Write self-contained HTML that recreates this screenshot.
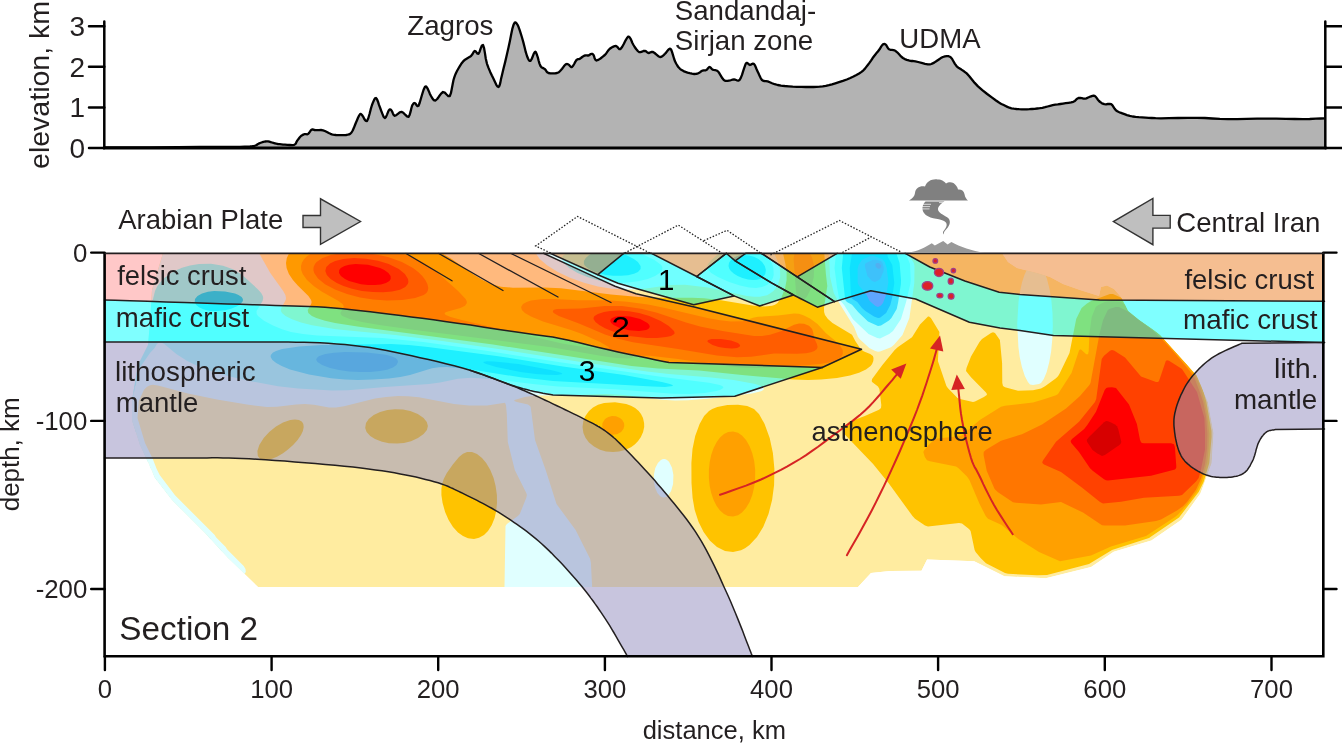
<!DOCTYPE html>
<html><head><meta charset="utf-8"><title>Section 2</title>
<style>html,body{margin:0;padding:0;background:#fff}svg{display:block}</style></head>
<body>
<svg width="1342" height="743" viewBox="0 0 1342 743" style="display:block">
<rect width="1342" height="743" fill="#fff"/>
<path d="M104.5,147.5 L123.0,147.4 L149.8,147.3 L177.8,147.1 L200.0,147.0 L214.6,146.9 L225.3,146.9 L233.4,146.9 L240.0,146.8 L244.7,146.7 L247.2,146.7 L248.5,146.6 L250.0,146.5 L251.7,146.3 L253.0,146.1 L254.2,145.9 L255.4,145.5 L256.6,145.0 L257.6,144.3 L258.7,143.6 L260.0,143.0 L261.5,142.5 L263.3,141.9 L265.0,141.5 L266.6,141.3 L268.0,141.4 L269.3,141.7 L270.6,142.1 L272.0,142.5 L273.4,142.9 L274.9,143.3 L276.4,143.7 L278.0,144.0 L279.6,144.2 L281.3,144.4 L283.1,144.6 L285.0,144.7 L287.3,144.9 L289.9,145.0 L292.3,145.1 L294.2,144.8 L295.3,144.1 L296.0,143.2 L296.4,142.1 L297.0,141.0 L297.8,139.9 L298.7,138.7 L299.6,137.5 L300.5,136.5 L301.4,135.7 L302.3,135.1 L303.3,134.6 L304.2,134.2 L305.1,134.1 L306.1,134.2 L307.1,134.3 L308.0,134.0 L308.9,133.1 L309.8,131.8 L310.8,130.4 L311.7,129.6 L312.6,129.4 L313.4,129.6 L314.3,130.0 L315.5,130.2 L317.1,130.2 L319.0,130.1 L321.0,130.0 L323.0,130.3 L324.9,131.0 L326.9,132.0 L328.8,133.0 L330.5,133.8 L331.9,134.3 L333.1,134.6 L334.4,134.8 L336.0,135.0 L338.3,135.1 L341.0,135.2 L343.7,135.2 L346.0,135.0 L347.7,134.7 L349.1,134.4 L350.3,133.7 L351.5,132.5 L352.7,130.5 L353.9,127.8 L355.0,125.0 L356.0,122.5 L357.0,120.2 L358.0,117.8 L358.9,115.9 L359.8,114.5 L360.4,113.9 L360.8,113.9 L361.3,114.3 L362.0,115.0 L363.1,116.6 L364.3,119.0 L365.7,120.9 L367.0,121.0 L368.3,118.3 L369.6,113.8 L370.8,108.9 L372.0,105.0 L373.1,102.2 L374.1,99.9 L375.0,98.4 L376.0,98.0 L377.0,99.2 L378.0,101.7 L378.9,104.7 L380.0,107.5 L381.1,110.5 L382.4,113.8 L383.6,116.7 L384.8,118.0 L385.9,117.1 L387.0,114.6 L388.1,111.8 L389.0,110.0 L389.7,109.4 L390.3,109.4 L390.9,109.8 L391.5,110.5 L392.2,111.7 L392.9,113.4 L393.7,115.0 L394.8,115.8 L396.2,115.2 L397.9,113.8 L399.7,112.3 L401.5,111.8 L403.3,112.7 L405.2,114.7 L407.0,116.4 L408.5,116.8 L409.6,115.0 L410.5,111.9 L411.3,108.5 L412.0,106.0 L412.7,104.6 L413.4,103.7 L414.0,103.2 L414.8,103.0 L415.6,103.7 L416.5,105.2 L417.5,106.2 L418.5,105.8 L419.7,102.8 L421.0,98.2 L422.4,93.5 L423.5,90.0 L424.4,88.0 L425.0,86.8 L425.7,86.4 L426.5,86.8 L427.5,88.3 L428.7,90.9 L429.8,93.7 L431.0,96.0 L432.1,97.8 L433.1,99.4 L434.2,100.4 L435.5,100.5 L437.2,99.0 L439.1,96.3 L441.1,93.6 L443.0,92.0 L444.8,92.6 L446.6,94.5 L448.3,96.1 L449.8,96.0 L450.9,93.2 L451.8,88.8 L452.7,84.0 L453.5,80.0 L454.3,77.3 L455.1,75.1 L455.9,73.2 L457.0,71.0 L458.4,68.5 L460.0,65.8 L461.7,63.2 L463.5,61.0 L465.4,59.4 L467.4,58.2 L469.4,57.1 L471.0,56.0 L472.2,54.6 L473.1,53.0 L473.9,51.7 L474.8,51.0 L475.7,51.4 L476.6,52.6 L477.5,53.7 L478.5,53.8 L479.6,51.7 L480.7,48.4 L481.9,45.5 L483.0,45.0 L484.0,47.8 L484.9,52.9 L485.8,58.7 L487.0,63.8 L488.5,67.9 L490.2,71.9 L491.9,75.6 L493.5,78.8 L494.9,81.8 L496.2,84.6 L497.4,86.5 L498.5,87.0 L499.4,85.8 L500.2,83.2 L500.9,79.6 L502.0,75.0 L503.4,69.1 L505.2,61.9 L506.9,54.4 L508.5,47.5 L509.9,40.9 L511.2,34.3 L512.4,28.6 L513.6,24.6 L514.6,22.7 L515.5,22.4 L516.4,23.2 L517.4,24.6 L518.5,26.8 L519.6,29.9 L520.8,33.6 L522.0,37.5 L523.3,42.1 L524.6,47.3 L525.8,52.2 L527.0,56.0 L528.0,58.5 L528.8,60.1 L529.6,60.8 L530.5,60.8 L531.6,59.2 L532.7,56.5 L533.8,53.7 L534.8,52.0 L535.4,51.7 L535.9,52.3 L536.4,53.4 L537.0,55.0 L537.8,57.4 L538.6,60.5 L539.5,63.6 L540.5,66.0 L541.5,67.3 L542.6,67.9 L543.7,68.4 L544.8,69.0 L545.6,70.0 L546.4,71.2 L547.2,72.3 L548.5,73.0 L550.4,73.4 L552.7,73.4 L555.1,73.3 L557.0,73.0 L558.3,72.5 L559.2,71.8 L560.1,71.0 L561.0,70.0 L562.1,68.7 L563.3,67.1 L564.5,65.5 L565.5,64.5 L566.3,64.1 L567.1,64.0 L567.8,64.2 L568.5,64.5 L569.3,65.2 L570.2,66.2 L571.0,67.0 L572.0,67.0 L573.1,65.8 L574.3,63.7 L575.4,61.6 L576.5,60.0 L577.4,59.3 L578.1,59.1 L578.8,59.1 L579.8,58.8 L580.9,58.0 L582.2,57.0 L583.5,56.1 L584.8,55.5 L585.8,55.3 L586.8,55.4 L587.6,55.5 L588.5,55.5 L589.3,55.1 L590.1,54.5 L590.8,54.0 L591.5,53.8 L592.0,53.8 L592.5,53.9 L593.0,54.3 L593.5,55.0 L594.1,56.3 L594.6,58.2 L595.4,59.8 L596.5,60.5 L598.3,59.9 L600.5,58.5 L602.8,56.7 L604.8,55.0 L606.2,53.4 L607.4,51.7 L608.5,50.1 L609.8,48.8 L611.3,47.7 L612.9,46.8 L614.5,46.2 L616.0,46.0 L617.2,46.7 L618.2,48.0 L619.3,49.1 L620.5,49.0 L622.1,47.0 L623.9,43.7 L625.6,40.3 L627.0,38.0 L627.9,36.9 L628.5,36.6 L629.1,36.8 L629.8,37.5 L630.6,38.8 L631.5,40.8 L632.4,43.0 L633.5,45.0 L634.7,47.0 L636.1,49.0 L637.6,50.8 L639.0,52.0 L640.5,52.2 L642.0,51.7 L643.4,51.0 L644.8,50.8 L645.8,51.1 L646.7,51.9 L647.6,52.6 L648.5,53.0 L649.5,52.8 L650.5,52.3 L651.7,51.9 L653.0,52.0 L654.6,53.0 L656.5,54.6 L658.3,56.2 L660.0,57.0 L661.4,56.8 L662.7,56.0 L663.9,54.9 L665.0,53.8 L666.1,52.6 L667.1,51.3 L668.0,50.1 L668.8,49.3 L669.5,48.9 L670.1,48.7 L670.6,49.0 L671.3,50.0 L672.1,52.2 L673.0,55.2 L674.0,58.5 L675.0,61.3 L676.1,63.5 L677.3,65.5 L678.5,67.3 L680.0,68.8 L681.7,70.1 L683.5,71.1 L685.5,71.9 L687.5,72.6 L689.7,73.2 L692.0,73.7 L694.2,74.0 L696.3,73.9 L698.1,73.3 L699.8,72.4 L701.3,71.3 L702.6,70.6 L703.7,70.3 L704.6,70.3 L705.5,70.3 L706.3,70.0 L707.2,69.3 L708.0,68.3 L708.8,67.4 L709.6,67.0 L710.3,67.3 L711.0,68.0 L711.7,68.9 L712.6,69.6 L713.8,69.9 L715.1,70.1 L716.6,70.5 L718.0,71.4 L719.4,73.3 L720.9,75.8 L722.4,78.3 L723.8,80.0 L725.1,80.8 L726.4,80.9 L727.6,80.8 L728.9,80.6 L730.1,80.4 L731.4,80.0 L732.6,79.6 L733.9,79.4 L735.3,79.7 L736.8,80.3 L738.3,80.6 L739.6,80.0 L740.8,77.9 L742.0,74.9 L743.0,71.6 L743.9,68.9 L744.6,66.9 L745.2,65.1 L745.7,63.8 L746.4,63.0 L747.2,63.0 L748.1,63.7 L749.1,64.5 L750.0,65.0 L751.0,64.7 L751.9,64.0 L752.9,63.6 L753.9,63.8 L754.8,65.1 L755.7,67.0 L756.6,69.2 L757.6,71.4 L758.6,73.6 L759.7,76.1 L760.8,78.3 L762.0,80.0 L763.2,80.8 L764.5,81.0 L765.9,81.1 L767.7,81.4 L769.8,82.2 L772.1,83.2 L774.7,84.2 L777.7,85.0 L781.0,85.6 L784.7,86.0 L788.7,86.3 L792.7,86.6 L797.0,86.8 L801.5,86.9 L805.9,87.0 L810.0,87.0 L813.5,87.0 L816.6,86.9 L819.6,86.7 L822.7,86.4 L825.8,85.9 L828.9,85.2 L832.0,84.4 L835.3,83.4 L839.0,82.2 L842.9,80.9 L846.8,79.5 L850.3,78.0 L853.5,76.5 L856.4,75.0 L859.1,73.5 L861.5,71.9 L863.4,70.3 L865.0,68.6 L866.3,66.9 L867.8,65.0 L869.4,62.9 L871.0,60.6 L872.5,58.3 L874.0,56.3 L875.4,54.5 L876.6,52.9 L877.9,51.5 L879.0,50.0 L880.1,48.5 L881.0,46.9 L881.9,45.5 L882.8,44.6 L883.6,44.1 L884.3,44.0 L885.1,44.1 L885.8,44.6 L886.5,45.5 L887.2,46.9 L888.0,48.2 L889.0,49.3 L890.3,49.8 L891.9,49.9 L893.6,50.1 L895.4,50.8 L897.2,52.3 L899.1,54.3 L901.0,56.4 L902.9,58.0 L904.8,59.1 L906.8,59.8 L908.7,60.4 L910.4,60.8 L911.6,61.0 L912.6,61.0 L913.7,61.1 L915.4,61.3 L918.1,62.0 L921.6,62.9 L925.0,63.8 L927.9,64.3 L929.9,64.3 L931.3,64.0 L932.6,63.4 L934.2,62.6 L936.2,61.3 L938.5,59.7 L940.8,58.1 L942.9,57.0 L944.9,56.4 L946.8,56.1 L948.6,56.2 L950.4,57.0 L952.0,58.7 L953.4,61.2 L954.9,63.9 L956.7,66.3 L958.9,68.1 L961.4,69.6 L964.0,71.3 L966.7,73.4 L969.3,76.2 L971.9,79.5 L974.7,82.9 L978.0,86.4 L982.3,90.1 L987.2,94.0 L992.1,97.6 L996.0,100.5 L998.6,102.3 L1000.5,103.4 L1002.0,104.2 L1003.7,105.0 L1005.6,106.0 L1007.4,106.9 L1009.4,107.7 L1011.5,108.3 L1013.9,108.7 L1016.5,109.0 L1019.2,109.2 L1021.8,109.3 L1024.4,109.3 L1026.9,109.3 L1029.4,109.2 L1032.0,109.0 L1034.6,108.8 L1037.2,108.5 L1039.8,108.2 L1042.4,107.8 L1045.0,107.2 L1047.6,106.5 L1050.1,105.8 L1052.7,105.2 L1055.3,104.7 L1057.8,104.4 L1060.4,104.0 L1063.0,103.6 L1065.7,103.2 L1068.5,102.8 L1071.1,102.4 L1073.3,101.8 L1074.9,100.9 L1076.1,99.7 L1077.2,98.7 L1078.5,98.0 L1080.1,97.9 L1081.8,98.2 L1083.5,98.6 L1085.0,98.7 L1086.4,98.4 L1087.6,97.8 L1088.8,97.2 L1090.0,96.7 L1091.2,96.3 L1092.4,95.9 L1093.6,95.7 L1094.7,95.9 L1095.8,96.8 L1096.8,98.2 L1097.9,99.7 L1099.0,101.0 L1100.2,102.0 L1101.5,102.9 L1102.8,103.7 L1104.3,104.2 L1106.0,104.3 L1107.8,104.0 L1109.6,103.8 L1111.2,104.2 L1112.5,105.4 L1113.6,107.1 L1114.7,108.8 L1115.9,110.3 L1117.3,111.3 L1118.8,112.0 L1120.4,112.7 L1122.3,113.4 L1124.5,114.2 L1127.0,115.1 L1129.8,115.9 L1132.6,116.5 L1135.6,116.9 L1138.7,117.2 L1142.0,117.4 L1145.5,117.6 L1148.7,117.8 L1151.8,118.0 L1155.6,118.2 L1161.0,118.3 L1168.7,118.2 L1178.0,118.0 L1187.9,117.8 L1197.0,117.8 L1204.9,118.0 L1212.3,118.5 L1219.8,118.9 L1228.0,119.1 L1237.2,119.1 L1247.0,118.9 L1257.0,118.7 L1266.7,118.6 L1276.2,118.7 L1285.8,118.9 L1294.8,119.0 L1302.8,119.1 L1309.7,119.0 L1315.9,118.7 L1320.9,118.5 L1324.5,118.3 L1324.5,148.0 L104.5,148.0 Z" fill="#b3b3b3"/>
<path d="M104.5,147.5 L123.0,147.4 L149.8,147.3 L177.8,147.1 L200.0,147.0 L214.6,146.9 L225.3,146.9 L233.4,146.9 L240.0,146.8 L244.7,146.7 L247.2,146.7 L248.5,146.6 L250.0,146.5 L251.7,146.3 L253.0,146.1 L254.2,145.9 L255.4,145.5 L256.6,145.0 L257.6,144.3 L258.7,143.6 L260.0,143.0 L261.5,142.5 L263.3,141.9 L265.0,141.5 L266.6,141.3 L268.0,141.4 L269.3,141.7 L270.6,142.1 L272.0,142.5 L273.4,142.9 L274.9,143.3 L276.4,143.7 L278.0,144.0 L279.6,144.2 L281.3,144.4 L283.1,144.6 L285.0,144.7 L287.3,144.9 L289.9,145.0 L292.3,145.1 L294.2,144.8 L295.3,144.1 L296.0,143.2 L296.4,142.1 L297.0,141.0 L297.8,139.9 L298.7,138.7 L299.6,137.5 L300.5,136.5 L301.4,135.7 L302.3,135.1 L303.3,134.6 L304.2,134.2 L305.1,134.1 L306.1,134.2 L307.1,134.3 L308.0,134.0 L308.9,133.1 L309.8,131.8 L310.8,130.4 L311.7,129.6 L312.6,129.4 L313.4,129.6 L314.3,130.0 L315.5,130.2 L317.1,130.2 L319.0,130.1 L321.0,130.0 L323.0,130.3 L324.9,131.0 L326.9,132.0 L328.8,133.0 L330.5,133.8 L331.9,134.3 L333.1,134.6 L334.4,134.8 L336.0,135.0 L338.3,135.1 L341.0,135.2 L343.7,135.2 L346.0,135.0 L347.7,134.7 L349.1,134.4 L350.3,133.7 L351.5,132.5 L352.7,130.5 L353.9,127.8 L355.0,125.0 L356.0,122.5 L357.0,120.2 L358.0,117.8 L358.9,115.9 L359.8,114.5 L360.4,113.9 L360.8,113.9 L361.3,114.3 L362.0,115.0 L363.1,116.6 L364.3,119.0 L365.7,120.9 L367.0,121.0 L368.3,118.3 L369.6,113.8 L370.8,108.9 L372.0,105.0 L373.1,102.2 L374.1,99.9 L375.0,98.4 L376.0,98.0 L377.0,99.2 L378.0,101.7 L378.9,104.7 L380.0,107.5 L381.1,110.5 L382.4,113.8 L383.6,116.7 L384.8,118.0 L385.9,117.1 L387.0,114.6 L388.1,111.8 L389.0,110.0 L389.7,109.4 L390.3,109.4 L390.9,109.8 L391.5,110.5 L392.2,111.7 L392.9,113.4 L393.7,115.0 L394.8,115.8 L396.2,115.2 L397.9,113.8 L399.7,112.3 L401.5,111.8 L403.3,112.7 L405.2,114.7 L407.0,116.4 L408.5,116.8 L409.6,115.0 L410.5,111.9 L411.3,108.5 L412.0,106.0 L412.7,104.6 L413.4,103.7 L414.0,103.2 L414.8,103.0 L415.6,103.7 L416.5,105.2 L417.5,106.2 L418.5,105.8 L419.7,102.8 L421.0,98.2 L422.4,93.5 L423.5,90.0 L424.4,88.0 L425.0,86.8 L425.7,86.4 L426.5,86.8 L427.5,88.3 L428.7,90.9 L429.8,93.7 L431.0,96.0 L432.1,97.8 L433.1,99.4 L434.2,100.4 L435.5,100.5 L437.2,99.0 L439.1,96.3 L441.1,93.6 L443.0,92.0 L444.8,92.6 L446.6,94.5 L448.3,96.1 L449.8,96.0 L450.9,93.2 L451.8,88.8 L452.7,84.0 L453.5,80.0 L454.3,77.3 L455.1,75.1 L455.9,73.2 L457.0,71.0 L458.4,68.5 L460.0,65.8 L461.7,63.2 L463.5,61.0 L465.4,59.4 L467.4,58.2 L469.4,57.1 L471.0,56.0 L472.2,54.6 L473.1,53.0 L473.9,51.7 L474.8,51.0 L475.7,51.4 L476.6,52.6 L477.5,53.7 L478.5,53.8 L479.6,51.7 L480.7,48.4 L481.9,45.5 L483.0,45.0 L484.0,47.8 L484.9,52.9 L485.8,58.7 L487.0,63.8 L488.5,67.9 L490.2,71.9 L491.9,75.6 L493.5,78.8 L494.9,81.8 L496.2,84.6 L497.4,86.5 L498.5,87.0 L499.4,85.8 L500.2,83.2 L500.9,79.6 L502.0,75.0 L503.4,69.1 L505.2,61.9 L506.9,54.4 L508.5,47.5 L509.9,40.9 L511.2,34.3 L512.4,28.6 L513.6,24.6 L514.6,22.7 L515.5,22.4 L516.4,23.2 L517.4,24.6 L518.5,26.8 L519.6,29.9 L520.8,33.6 L522.0,37.5 L523.3,42.1 L524.6,47.3 L525.8,52.2 L527.0,56.0 L528.0,58.5 L528.8,60.1 L529.6,60.8 L530.5,60.8 L531.6,59.2 L532.7,56.5 L533.8,53.7 L534.8,52.0 L535.4,51.7 L535.9,52.3 L536.4,53.4 L537.0,55.0 L537.8,57.4 L538.6,60.5 L539.5,63.6 L540.5,66.0 L541.5,67.3 L542.6,67.9 L543.7,68.4 L544.8,69.0 L545.6,70.0 L546.4,71.2 L547.2,72.3 L548.5,73.0 L550.4,73.4 L552.7,73.4 L555.1,73.3 L557.0,73.0 L558.3,72.5 L559.2,71.8 L560.1,71.0 L561.0,70.0 L562.1,68.7 L563.3,67.1 L564.5,65.5 L565.5,64.5 L566.3,64.1 L567.1,64.0 L567.8,64.2 L568.5,64.5 L569.3,65.2 L570.2,66.2 L571.0,67.0 L572.0,67.0 L573.1,65.8 L574.3,63.7 L575.4,61.6 L576.5,60.0 L577.4,59.3 L578.1,59.1 L578.8,59.1 L579.8,58.8 L580.9,58.0 L582.2,57.0 L583.5,56.1 L584.8,55.5 L585.8,55.3 L586.8,55.4 L587.6,55.5 L588.5,55.5 L589.3,55.1 L590.1,54.5 L590.8,54.0 L591.5,53.8 L592.0,53.8 L592.5,53.9 L593.0,54.3 L593.5,55.0 L594.1,56.3 L594.6,58.2 L595.4,59.8 L596.5,60.5 L598.3,59.9 L600.5,58.5 L602.8,56.7 L604.8,55.0 L606.2,53.4 L607.4,51.7 L608.5,50.1 L609.8,48.8 L611.3,47.7 L612.9,46.8 L614.5,46.2 L616.0,46.0 L617.2,46.7 L618.2,48.0 L619.3,49.1 L620.5,49.0 L622.1,47.0 L623.9,43.7 L625.6,40.3 L627.0,38.0 L627.9,36.9 L628.5,36.6 L629.1,36.8 L629.8,37.5 L630.6,38.8 L631.5,40.8 L632.4,43.0 L633.5,45.0 L634.7,47.0 L636.1,49.0 L637.6,50.8 L639.0,52.0 L640.5,52.2 L642.0,51.7 L643.4,51.0 L644.8,50.8 L645.8,51.1 L646.7,51.9 L647.6,52.6 L648.5,53.0 L649.5,52.8 L650.5,52.3 L651.7,51.9 L653.0,52.0 L654.6,53.0 L656.5,54.6 L658.3,56.2 L660.0,57.0 L661.4,56.8 L662.7,56.0 L663.9,54.9 L665.0,53.8 L666.1,52.6 L667.1,51.3 L668.0,50.1 L668.8,49.3 L669.5,48.9 L670.1,48.7 L670.6,49.0 L671.3,50.0 L672.1,52.2 L673.0,55.2 L674.0,58.5 L675.0,61.3 L676.1,63.5 L677.3,65.5 L678.5,67.3 L680.0,68.8 L681.7,70.1 L683.5,71.1 L685.5,71.9 L687.5,72.6 L689.7,73.2 L692.0,73.7 L694.2,74.0 L696.3,73.9 L698.1,73.3 L699.8,72.4 L701.3,71.3 L702.6,70.6 L703.7,70.3 L704.6,70.3 L705.5,70.3 L706.3,70.0 L707.2,69.3 L708.0,68.3 L708.8,67.4 L709.6,67.0 L710.3,67.3 L711.0,68.0 L711.7,68.9 L712.6,69.6 L713.8,69.9 L715.1,70.1 L716.6,70.5 L718.0,71.4 L719.4,73.3 L720.9,75.8 L722.4,78.3 L723.8,80.0 L725.1,80.8 L726.4,80.9 L727.6,80.8 L728.9,80.6 L730.1,80.4 L731.4,80.0 L732.6,79.6 L733.9,79.4 L735.3,79.7 L736.8,80.3 L738.3,80.6 L739.6,80.0 L740.8,77.9 L742.0,74.9 L743.0,71.6 L743.9,68.9 L744.6,66.9 L745.2,65.1 L745.7,63.8 L746.4,63.0 L747.2,63.0 L748.1,63.7 L749.1,64.5 L750.0,65.0 L751.0,64.7 L751.9,64.0 L752.9,63.6 L753.9,63.8 L754.8,65.1 L755.7,67.0 L756.6,69.2 L757.6,71.4 L758.6,73.6 L759.7,76.1 L760.8,78.3 L762.0,80.0 L763.2,80.8 L764.5,81.0 L765.9,81.1 L767.7,81.4 L769.8,82.2 L772.1,83.2 L774.7,84.2 L777.7,85.0 L781.0,85.6 L784.7,86.0 L788.7,86.3 L792.7,86.6 L797.0,86.8 L801.5,86.9 L805.9,87.0 L810.0,87.0 L813.5,87.0 L816.6,86.9 L819.6,86.7 L822.7,86.4 L825.8,85.9 L828.9,85.2 L832.0,84.4 L835.3,83.4 L839.0,82.2 L842.9,80.9 L846.8,79.5 L850.3,78.0 L853.5,76.5 L856.4,75.0 L859.1,73.5 L861.5,71.9 L863.4,70.3 L865.0,68.6 L866.3,66.9 L867.8,65.0 L869.4,62.9 L871.0,60.6 L872.5,58.3 L874.0,56.3 L875.4,54.5 L876.6,52.9 L877.9,51.5 L879.0,50.0 L880.1,48.5 L881.0,46.9 L881.9,45.5 L882.8,44.6 L883.6,44.1 L884.3,44.0 L885.1,44.1 L885.8,44.6 L886.5,45.5 L887.2,46.9 L888.0,48.2 L889.0,49.3 L890.3,49.8 L891.9,49.9 L893.6,50.1 L895.4,50.8 L897.2,52.3 L899.1,54.3 L901.0,56.4 L902.9,58.0 L904.8,59.1 L906.8,59.8 L908.7,60.4 L910.4,60.8 L911.6,61.0 L912.6,61.0 L913.7,61.1 L915.4,61.3 L918.1,62.0 L921.6,62.9 L925.0,63.8 L927.9,64.3 L929.9,64.3 L931.3,64.0 L932.6,63.4 L934.2,62.6 L936.2,61.3 L938.5,59.7 L940.8,58.1 L942.9,57.0 L944.9,56.4 L946.8,56.1 L948.6,56.2 L950.4,57.0 L952.0,58.7 L953.4,61.2 L954.9,63.9 L956.7,66.3 L958.9,68.1 L961.4,69.6 L964.0,71.3 L966.7,73.4 L969.3,76.2 L971.9,79.5 L974.7,82.9 L978.0,86.4 L982.3,90.1 L987.2,94.0 L992.1,97.6 L996.0,100.5 L998.6,102.3 L1000.5,103.4 L1002.0,104.2 L1003.7,105.0 L1005.6,106.0 L1007.4,106.9 L1009.4,107.7 L1011.5,108.3 L1013.9,108.7 L1016.5,109.0 L1019.2,109.2 L1021.8,109.3 L1024.4,109.3 L1026.9,109.3 L1029.4,109.2 L1032.0,109.0 L1034.6,108.8 L1037.2,108.5 L1039.8,108.2 L1042.4,107.8 L1045.0,107.2 L1047.6,106.5 L1050.1,105.8 L1052.7,105.2 L1055.3,104.7 L1057.8,104.4 L1060.4,104.0 L1063.0,103.6 L1065.7,103.2 L1068.5,102.8 L1071.1,102.4 L1073.3,101.8 L1074.9,100.9 L1076.1,99.7 L1077.2,98.7 L1078.5,98.0 L1080.1,97.9 L1081.8,98.2 L1083.5,98.6 L1085.0,98.7 L1086.4,98.4 L1087.6,97.8 L1088.8,97.2 L1090.0,96.7 L1091.2,96.3 L1092.4,95.9 L1093.6,95.7 L1094.7,95.9 L1095.8,96.8 L1096.8,98.2 L1097.9,99.7 L1099.0,101.0 L1100.2,102.0 L1101.5,102.9 L1102.8,103.7 L1104.3,104.2 L1106.0,104.3 L1107.8,104.0 L1109.6,103.8 L1111.2,104.2 L1112.5,105.4 L1113.6,107.1 L1114.7,108.8 L1115.9,110.3 L1117.3,111.3 L1118.8,112.0 L1120.4,112.7 L1122.3,113.4 L1124.5,114.2 L1127.0,115.1 L1129.8,115.9 L1132.6,116.5 L1135.6,116.9 L1138.7,117.2 L1142.0,117.4 L1145.5,117.6 L1148.7,117.8 L1151.8,118.0 L1155.6,118.2 L1161.0,118.3 L1168.7,118.2 L1178.0,118.0 L1187.9,117.8 L1197.0,117.8 L1204.9,118.0 L1212.3,118.5 L1219.8,118.9 L1228.0,119.1 L1237.2,119.1 L1247.0,118.9 L1257.0,118.7 L1266.7,118.6 L1276.2,118.7 L1285.8,118.9 L1294.8,119.0 L1302.8,119.1 L1309.7,119.0 L1315.9,118.7 L1320.9,118.5 L1324.5,118.3" fill="none" stroke="#000" stroke-width="2.3" stroke-linejoin="round"/>
<g stroke="#000" stroke-width="2.5" fill="none" stroke-linecap="round">
<path d="M104.3,21.4 V148 M1325.3,21.4 V148"/>
<path d="M89,26.2 H104.3 M1325.3,26.2 H1343"/>
<path d="M89,66.8 H104.3 M1325.3,66.8 H1343"/>
<path d="M89,107.4 H104.3 M1325.3,107.4 H1343"/>
<path d="M89,148.0 H104.3 M1325.3,148.0 H1343"/>
</g>
<path d="M103,148 H1326.6" stroke="#000" stroke-width="3.2"/>
<g font-family="&quot;Liberation Sans&quot;, sans-serif" font-size="28" fill="#231f20" text-anchor="end">
<text x="85" y="36.2">3</text>
<text x="85" y="76.8">2</text>
<text x="85" y="117.4">1</text>
<text x="85" y="158.0">0</text>
</g>
<g font-family="&quot;Liberation Sans&quot;, sans-serif" fill="#231f20">
<text transform="translate(49.30,167.80) rotate(-90)" x="-1.15" y="0" font-size="28.00" textLength="168.02" lengthAdjust="spacingAndGlyphs">elevation, km</text>
<text x="407.22" y="35.00" font-size="27.50" textLength="86.26" lengthAdjust="spacingAndGlyphs">Zagros</text>
<text x="674.84" y="19.70" font-size="27.50" textLength="141.34" lengthAdjust="spacingAndGlyphs">Sandandaj-</text>
<text x="674.84" y="49.80" font-size="27.50" textLength="138.37" lengthAdjust="spacingAndGlyphs">Sirjan zone</text>
<text x="899.37" y="48.00" font-size="27.50" textLength="81.23" lengthAdjust="spacingAndGlyphs">UDMA</text>
</g>
<clipPath id="dm"><path d="M163.0,253.0L1002.0,253.0L1008.0,262.0L1017.0,268.0L1037.0,273.0L1050.0,277.0L1063.0,284.0L1080.0,290.0L1099.0,296.0L1101.0,287.0L1107.0,285.5L1114.0,289.0L1121.0,297.0L1125.0,305.0L1128.0,311.0L1139.0,320.0L1152.0,329.0L1160.0,335.0L1177.8,354.8L1196.6,375.5L1207.9,401.9L1213.6,433.1L1211.7,463.2L1200.4,493.4L1181.5,519.8L1151.4,540.5L1113.7,551.8L1091.1,566.9L1045.8,578.2L1004.4,576.3L974.2,561.2L927.1,559.4L921.5,570.7L890.0,571.0L871.0,573.0L858.0,587.0L258.0,587.0L228.0,558.0L205.0,533.0L172.0,500.0L155.0,478.0L148.0,462.0L140.0,445.0L132.0,420.0L132.0,400.0L138.0,365.0L148.0,345.0L150.0,322.0L152.0,290.0Z"/></clipPath>
<g clip-path="url(#dm)">
<path d="M163.0,253.0L1002.0,253.0L1008.0,262.0L1017.0,268.0L1037.0,273.0L1050.0,277.0L1063.0,284.0L1080.0,290.0L1099.0,296.0L1101.0,287.0L1107.0,285.5L1114.0,289.0L1121.0,297.0L1125.0,305.0L1128.0,311.0L1139.0,320.0L1152.0,329.0L1160.0,335.0L1177.8,354.8L1196.6,375.5L1207.9,401.9L1213.6,433.1L1211.7,463.2L1200.4,493.4L1181.5,519.8L1151.4,540.5L1113.7,551.8L1091.1,566.9L1045.8,578.2L1004.4,576.3L974.2,561.2L927.1,559.4L921.5,570.7L890.0,571.0L871.0,573.0L858.0,587.0L258.0,587.0L228.0,558.0L205.0,533.0L172.0,500.0L155.0,478.0L148.0,462.0L140.0,445.0L132.0,420.0L132.0,400.0L138.0,365.0L148.0,345.0L150.0,322.0L152.0,290.0Z" fill="rgb(255,236,160)"/>
<path fill-rule="evenodd" d="M292.7,249.0L293.7,248.0L431.0,248.0L441.0,252.8L451.0,258.5L474.4,275.0L482.5,280.0L491.1,284.0L501.0,286.7L513.0,287.8L544.0,287.6L561.0,288.3L611.0,294.6L639.0,296.9L663.0,297.8L692.0,297.8L704.0,298.3L721.0,300.2L754.0,305.7L765.0,306.6L772.0,305.8L775.0,304.7L777.5,303.0L781.2,298.0L785.1,288.0L786.6,280.0L786.6,272.0L785.4,264.0L781.8,248.0L823.9,248.0L825.9,274.0L827.3,286.0L824.0,308.0L824.1,312.0L825.0,315.0L827.9,319.0L832.5,323.0L852.0,334.7L855.3,341.0L861.0,349.6L864.0,351.4L870.2,354.0L872.9,356.0L873.5,358.0L873.3,361.0L872.1,364.0L870.6,366.0L866.0,369.6L859.0,372.8L850.0,375.5L837.0,377.9L821.0,379.6L808.0,380.0L793.0,379.4L742.0,375.0L699.0,370.6L658.0,368.6L631.4,366.0L493.0,344.5L359.0,326.8L335.0,323.0L325.0,320.7L316.3,318.0L311.9,316.0L308.3,313.0L307.7,310.0L311.2,304.0L311.6,302.0L311.1,300.0L308.4,296.0L298.0,285.8L292.9,280.0L288.9,274.0L286.6,268.0L286.0,263.0L286.8,258.0L289.0,253.5ZM1109.9,294.0L1113.0,293.9L1125.0,299.4L1143.0,314.4L1163.2,335.0L1188.8,363.0L1196.4,374.0L1201.6,385.0L1206.4,402.0L1211.5,431.0L1211.6,437.0L1209.3,463.0L1203.6,482.0L1198.7,492.0L1179.0,517.5L1149.0,538.1L1112.0,549.9L1089.0,563.9L1047.0,575.1L1037.0,575.3L1008.0,573.8L1005.0,573.1L986.0,563.2L980.6,558.0L975.6,552.0L974.6,550.0L970.6,531.0L969.0,529.0L962.0,523.6L959.0,523.0L928.0,526.4L925.0,525.5L915.0,518.8L912.5,516.0L888.5,483.0L873.1,464.0L844.3,434.0L843.9,432.0L844.5,430.0L847.0,424.0L849.0,422.0L864.8,416.0L879.0,409.7L881.0,408.0L881.3,405.0L879.4,389.0L878.0,386.6L872.1,382.0L871.7,381.0L872.1,379.0L882.4,365.0L894.7,350.0L898.0,347.0L912.0,337.3L920.0,324.4L928.0,316.5L929.0,316.4L930.9,318.0L939.4,332.0L937.9,361.0L946.4,386.0L948.0,388.3L957.5,398.0L961.0,399.3L973.0,401.9L975.0,401.4L983.9,397.0L986.8,395.0L986.9,394.0L986.0,392.5L971.0,377.3L966.0,371.0L966.5,368.0L971.0,356.4L979.5,342.0L982.0,339.0L991.0,332.9L993.0,332.2L995.0,333.1L999.9,340.0L1002.1,363.0L1002.3,383.0L1003.0,386.0L1005.0,387.2L1018.0,390.7L1033.0,390.2L1041.0,388.6L1045.0,386.3L1056.0,378.2L1058.0,376.3L1059.4,374.0L1069.5,353.0L1076.2,319.0L1081.6,308.0L1087.0,303.5L1091.0,300.9ZM604.1,403.0L615.0,402.2L626.2,404.0L631.0,405.8L635.1,408.0L638.7,411.0L641.0,414.0L643.0,418.0L644.1,423.0L644.2,427.0L643.1,432.0L640.9,437.0L638.1,441.0L635.0,444.2L631.0,447.2L625.0,450.1L619.0,451.6L613.0,452.1L606.0,451.4L600.0,449.7L594.0,446.6L589.0,442.4L585.6,438.0L583.4,433.0L582.5,427.0L583.3,421.0L585.4,416.0L589.0,411.0L593.0,407.5L598.0,404.8ZM727.4,405.0L738.0,404.7L747.2,406.0L754.0,409.0L759.0,414.0L764.6,424.0L769.7,438.0L772.9,453.0L774.4,469.0L774.1,485.0L772.1,500.0L768.5,514.0L763.2,527.0L757.0,537.0L749.5,545.0L745.0,548.2L741.0,550.2L733.0,551.9L725.0,550.9L717.0,546.9L710.0,540.7L703.6,532.0L698.6,522.0L694.7,510.0L692.6,498.0L691.5,483.0L691.4,463.0L692.5,449.0L695.2,436.0L699.6,424.0L704.1,416.0L709.0,411.0L712.2,409.0L717.3,407.0ZM387.4,410.0L395.0,409.2L403.0,409.5L410.3,411.0L417.8,414.0L423.6,418.0L426.8,422.0L427.9,426.0L426.9,430.0L423.6,434.0L418.0,438.0L411.0,441.2L404.0,443.0L397.0,443.6L389.0,443.2L382.0,441.8L375.0,439.1L370.2,436.0L366.6,432.0L365.2,428.0L366.0,423.0L368.7,419.0L373.7,415.0L380.1,412.0ZM290.2,420.0L295.0,419.4L299.0,420.0L302.0,421.8L303.3,424.0L303.7,427.0L302.9,431.0L301.0,435.0L297.6,440.0L293.1,445.0L288.0,449.6L283.0,453.2L277.0,456.7L272.0,458.8L267.0,459.9L263.0,459.9L260.0,458.8L257.8,456.0L257.4,451.0L259.3,445.0L263.7,438.0L269.2,432.0L276.0,426.5L283.0,422.5ZM467.1,452.0L472.0,452.0L477.0,454.0L482.0,457.9L486.2,463.0L490.3,470.0L493.6,478.0L495.6,486.0L496.9,495.0L497.0,503.0L496.2,511.0L494.6,518.0L491.8,525.0L488.0,531.0L484.0,535.0L479.0,537.8L474.0,538.9L468.0,538.2L463.0,536.1L458.0,532.5L453.0,527.0L448.6,520.0L445.1,512.0L442.6,503.0L441.4,495.0L441.4,489.0L442.1,484.0L443.7,479.0L446.8,473.0L453.0,464.2L459.0,457.1L463.0,453.8Z" fill="rgb(255,195,0)"/>
<path fill-rule="evenodd" d="M322.6,249.0L326.6,248.0L381.1,248.0L396.0,251.4L409.0,255.7L422.3,262.0L434.5,270.0L458.1,291.0L465.6,299.0L466.6,301.0L466.9,303.0L465.0,305.8L460.4,308.0L446.1,312.0L444.7,313.0L444.7,314.0L445.8,315.0L450.6,317.0L461.6,320.0L562.0,343.5L579.0,346.3L597.0,348.3L607.0,348.5L608.8,348.0L608.7,347.0L600.1,342.0L582.1,334.0L571.0,330.0L543.0,321.5L531.0,316.6L524.9,313.0L521.9,310.0L521.1,307.0L523.0,304.1L526.7,302.0L531.0,300.6L543.0,299.1L553.0,299.0L578.0,300.2L607.0,300.2L627.0,301.7L648.0,304.6L664.0,307.7L707.3,318.0L720.0,320.3L731.0,321.6L743.0,321.2L753.0,317.8L758.0,316.8L778.0,315.5L794.0,313.4L799.0,313.7L804.0,315.5L810.0,318.6L817.5,324.0L826.0,333.2L835.6,341.0L839.7,345.0L842.7,350.0L842.8,354.0L841.0,357.0L836.0,360.3L829.0,362.5L820.0,364.1L804.0,365.6L770.0,367.6L755.0,367.9L741.0,367.4L725.0,365.9L678.0,359.0L650.0,355.8L638.0,355.7L631.7,358.0L628.0,358.4L616.3,358.0L601.9,356.0L553.0,347.4L415.0,330.0L379.3,325.0L362.0,322.0L349.6,319.0L342.4,316.0L341.2,315.0L340.4,313.0L343.8,307.0L343.7,306.0L342.5,304.0L338.5,301.0L322.0,291.7L314.0,286.3L307.0,280.0L302.7,274.0L301.2,270.0L301.0,266.0L302.0,262.4L304.0,259.2L307.0,256.3L311.0,253.6L316.0,251.2ZM797.0,249.0L798.5,248.0L804.2,248.0L808.0,250.7L812.0,257.2L814.1,266.0L813.8,277.0L811.0,288.6L807.0,296.5L805.0,298.7L802.0,300.4L800.0,300.2L798.0,298.4L796.9,296.0L795.9,291.0L793.6,259.0L794.5,253.0ZM1104.7,302.0L1108.0,301.3L1121.0,301.7L1138.2,314.0L1165.0,339.9L1185.2,362.0L1194.4,374.0L1199.1,384.0L1202.0,392.8L1204.7,402.0L1207.2,415.0L1209.4,434.0L1208.6,449.0L1207.3,462.0L1202.0,481.0L1197.0,491.3L1186.7,505.0L1178.0,514.4L1175.0,517.0L1146.0,535.9L1111.0,546.4L1091.0,555.6L1060.0,561.3L1039.0,552.1L1018.0,538.8L1001.7,525.0L988.0,518.7L985.7,516.0L979.6,504.0L969.4,480.0L967.0,476.6L958.3,468.0L956.0,466.6L930.0,461.3L927.0,460.2L924.8,457.0L923.3,452.0L924.3,450.0L928.7,445.0L935.0,438.7L961.0,436.0L979.8,420.0L1001.0,406.8L1005.0,405.8L1033.0,402.6L1044.0,399.3L1056.0,395.2L1058.0,394.0L1071.5,373.0L1079.0,350.5L1080.0,349.6L1081.0,349.6L1086.0,353.9L1087.0,354.4L1088.1,354.0L1088.7,351.0L1089.4,334.0L1091.7,317.0L1095.7,307.0L1098.0,305.3ZM608.3,417.0L612.0,416.1L616.0,416.3L620.0,417.9L622.3,420.0L624.0,423.0L624.3,426.0L623.4,429.0L621.1,432.0L617.0,434.2L612.0,434.8L608.0,433.8L604.2,431.0L602.2,427.0L602.5,423.0L605.0,419.1ZM728.1,432.0L733.0,431.4L738.0,432.8L742.0,435.5L746.0,440.0L749.5,446.0L752.2,453.0L754.2,461.0L755.2,470.0L755.1,479.0L754.2,487.0L752.3,495.0L749.6,502.0L746.0,508.1L742.0,512.5L738.0,515.2L733.0,516.6L728.0,516.0L724.0,514.1L720.0,510.5L716.6,506.0L713.6,500.0L711.2,493.0L709.7,486.0L708.9,478.0L708.9,470.0L709.7,462.0L711.2,455.0L713.6,448.0L716.7,442.0L720.0,437.5L724.0,434.0Z" fill="rgb(255,160,0)"/>
<path fill-rule="evenodd" d="M342.1,253.0L357.0,252.5L373.0,253.9L388.0,257.1L401.9,262.0L413.0,268.1L418.2,272.0L422.3,276.0L425.3,280.0L427.4,284.0L428.3,288.0L427.7,291.0L426.4,293.0L423.7,295.0L415.1,298.0L402.0,299.9L387.0,300.4L373.0,299.5L360.0,297.5L347.0,294.1L335.0,289.6L325.0,284.2L318.0,278.6L314.2,273.0L313.4,270.0L313.6,267.0L315.0,264.0L316.6,262.0L322.5,258.0L331.0,255.0ZM604.7,306.0L622.0,306.1L641.0,308.7L657.0,312.7L686.0,322.5L701.0,326.7L722.5,331.0L754.0,336.0L762.0,336.1L770.0,334.8L781.0,331.2L794.0,324.7L799.0,323.6L804.0,323.8L809.0,325.8L812.1,329.0L813.1,332.0L814.1,338.0L816.9,344.0L817.6,347.0L816.9,349.0L814.4,351.0L811.0,352.3L806.0,353.3L797.0,353.8L774.0,353.5L751.0,356.7L737.0,357.3L717.0,355.5L678.0,348.9L633.0,342.3L618.0,338.8L605.0,334.6L579.0,323.5L558.8,316.0L553.7,313.0L552.9,312.0L553.0,310.7L554.0,309.8L557.0,308.9L581.0,308.4ZM1115.7,307.0L1119.0,306.9L1128.0,311.4L1152.0,329.8L1161.0,338.2L1172.0,350.0L1189.0,370.0L1194.1,377.0L1200.0,392.4L1203.1,402.0L1206.1,417.0L1207.4,434.0L1207.1,448.0L1205.0,464.1L1201.0,478.7L1196.0,489.8L1187.0,502.0L1183.0,506.3L1177.0,510.4L1161.0,519.5L1156.0,521.1L1125.0,525.5L1105.0,525.6L1102.0,525.2L1083.0,512.5L1061.0,502.1L1041.0,504.5L1016.0,502.8L1013.0,502.2L998.0,492.3L994.6,489.0L986.8,471.0L983.6,455.0L983.7,452.0L986.0,449.8L1001.0,440.7L1022.0,434.2L1042.0,424.5L1066.0,408.4L1080.0,395.9L1089.4,385.0L1090.5,383.0L1099.5,334.0L1103.0,320.3L1107.8,310.0L1110.0,308.7Z" fill="rgb(255,118,0)"/>
<path fill-rule="evenodd" d="M343.2,259.0L354.0,258.1L366.0,258.7L378.0,260.7L388.7,264.0L398.8,269.0L404.9,274.0L408.0,279.0L408.4,282.0L407.8,284.0L405.3,287.0L400.0,289.7L392.0,291.5L383.0,292.3L373.0,292.1L362.0,290.9L352.0,288.7L343.5,286.0L336.8,283.0L330.6,279.0L326.8,275.0L325.3,271.0L326.3,267.0L330.0,263.4L335.1,261.0ZM610.3,311.0L619.0,310.6L629.0,311.2L639.0,313.0L649.3,316.0L660.7,321.0L668.8,326.0L674.0,331.0L674.6,333.0L674.3,334.0L671.0,336.0L666.0,337.1L657.0,337.9L647.0,337.9L629.0,335.9L613.0,331.6L605.0,328.2L599.3,325.0L595.5,322.0L593.5,319.0L593.8,317.0L594.6,316.0L597.9,314.0L604.0,312.1ZM711.7,339.0L721.0,338.9L731.0,340.4L738.0,343.0L740.0,345.0L740.1,346.0L739.1,347.0L737.0,347.9L732.0,348.5L725.0,348.1L718.7,347.0L712.5,345.0L707.7,342.0L707.4,341.0L708.2,340.0ZM1111.9,350.0L1114.0,350.6L1125.0,357.5L1141.0,376.4L1156.0,382.1L1158.0,382.0L1159.0,380.9L1165.8,361.0L1167.0,360.3L1169.0,360.8L1182.0,369.0L1197.0,391.9L1204.4,418.0L1205.0,432.0L1205.0,449.4L1201.1,469.0L1198.7,478.0L1196.0,481.4L1182.0,495.0L1179.0,495.8L1144.0,497.7L1121.0,501.7L1103.0,503.4L1100.0,501.9L1082.5,488.0L1061.0,472.0L1044.0,464.5L1042.4,463.0L1042.3,462.0L1043.3,460.0L1056.0,441.8L1079.0,421.7L1095.0,402.0L1096.2,399.0L1101.7,359.0L1104.0,355.8L1110.0,350.8Z" fill="rgb(255,65,0)"/>
<path fill-rule="evenodd" d="M355.5,264.0L368.0,264.8L380.1,268.0L384.3,270.0L388.4,273.0L390.6,276.0L390.7,279.0L389.4,281.0L386.0,283.1L381.0,284.5L375.0,285.1L368.0,285.0L361.0,284.2L349.0,280.9L345.0,279.0L340.9,276.0L339.0,273.0L339.2,270.0L340.8,268.0L344.5,266.0L349.0,264.7ZM619.6,316.0L630.0,316.4L640.2,319.0L647.5,323.0L649.3,325.0L649.8,327.0L648.3,329.0L646.2,330.0L639.0,331.1L629.0,330.3L619.8,328.0L613.6,325.0L611.2,323.0L610.2,321.0L610.8,319.0L612.1,318.0L615.0,316.8ZM1106.3,388.0L1108.0,387.4L1112.0,387.3L1116.0,388.1L1129.0,404.4L1136.9,424.0L1140.0,439.7L1141.0,442.3L1142.0,443.0L1144.0,443.3L1171.0,443.3L1174.0,444.2L1174.9,447.0L1176.3,466.0L1176.2,468.0L1175.0,469.6L1151.0,475.7L1108.0,480.5L1106.0,480.2L1104.0,479.2L1093.0,471.1L1090.0,468.3L1079.0,452.1L1071.3,443.0L1070.6,441.0L1072.0,439.0L1084.2,429.0L1087.3,425.0L1096.0,411.7L1104.7,390.0Z" fill="rgb(255,0,0)"/>
<path fill-rule="evenodd" d="M1106.1,421.0L1108.0,421.2L1111.0,422.5L1115.0,424.5L1117.0,426.2L1118.2,429.0L1121.4,442.0L1120.5,444.0L1119.0,445.3L1104.9,455.0L1102.0,456.1L1097.0,453.3L1092.5,450.0L1087.2,442.0L1086.7,440.0L1089.0,436.9L1104.0,422.3Z" fill="rgb(215,0,0)"/>
<path fill-rule="evenodd" d="M139.3,249.0L141.1,248.0L255.2,248.0L260.0,254.7L270.3,273.0L283.2,291.0L285.4,295.0L286.0,298.0L285.7,300.0L280.9,309.0L280.9,311.0L282.0,313.0L285.5,316.0L292.0,319.2L301.0,322.4L312.0,325.3L336.0,329.2L395.1,335.0L442.2,341.0L495.0,348.5L580.9,362.0L647.0,371.5L669.0,374.0L711.0,377.4L733.7,380.0L755.3,384.0L760.9,386.0L763.6,388.0L763.8,389.0L763.3,390.0L761.0,391.3L752.0,393.4L707.0,398.8L688.0,400.3L675.0,400.5L662.0,399.8L624.2,395.0L605.0,394.0L571.0,395.2L536.0,395.5L524.6,397.0L514.5,400.0L514.3,401.0L516.8,402.0L528.0,404.5L530.0,405.9L530.7,407.0L535.0,440.0L546.0,471.0L556.5,504.0L575.6,530.0L590.2,559.0L590.9,563.0L592.4,592.0L504.4,592.0L505.5,526.0L506.9,524.0L517.9,516.0L519.8,514.0L526.2,498.0L526.9,495.0L526.3,493.0L514.8,470.0L507.8,442.0L506.8,414.0L506.0,405.3L505.0,402.8L487.0,405.6L469.0,405.6L454.0,403.9L419.0,397.3L408.0,396.3L398.0,396.1L386.0,396.9L375.0,398.5L344.0,406.2L336.0,407.5L329.0,407.5L314.0,404.7L305.0,404.0L296.0,404.5L277.0,406.8L267.0,406.9L247.0,404.6L217.0,399.6L188.0,393.5L158.0,385.4L153.0,384.7L150.0,385.2L147.0,386.7L144.0,389.8L138.8,401.0L137.5,418.0L145.0,443.1L152.4,458.0L156.7,469.0L159.7,475.0L175.0,495.3L214.7,535.0L216.0,537.3L225.7,547.0L227.0,549.3L243.7,566.0L245.5,569.0L245.8,572.0L244.0,574.5L100.0,574.5L100.0,301.3L102.9,300.0L104.8,291.0L107.4,283.0L110.9,276.0L114.8,270.0L119.9,264.0L125.1,259.0L132.0,253.6ZM535.4,248.0L769.9,248.0L774.9,255.0L778.1,262.0L780.1,270.0L780.2,277.0L778.0,284.6L776.0,288.0L773.4,291.0L770.0,293.6L767.0,295.2L760.0,296.7L754.0,296.7L747.0,295.9L708.0,287.6L685.0,284.7L670.0,285.0L646.0,288.4L635.0,289.5L624.0,289.6L612.0,288.7L598.0,286.4L584.0,282.7L570.0,277.7L557.8,272.0L547.0,265.3L539.7,259.0L535.6,253.0L535.0,250.0ZM827.9,248.0L907.6,248.0L909.0,254.9L913.8,263.0L914.5,266.0L914.3,283.0L909.4,318.0L902.5,335.0L894.0,344.7L891.0,347.3L880.0,351.5L878.0,351.7L875.2,351.0L869.3,348.0L860.0,339.5L858.0,336.9L854.1,327.0L838.0,301.0L833.8,293.0L830.0,276.4L829.4,262.0ZM1033.5,263.0L1037.0,263.1L1041.0,266.4L1044.0,271.3L1047.0,279.0L1049.5,289.0L1051.3,300.0L1052.5,313.0L1052.8,326.0L1052.3,339.0L1051.2,351.0L1049.3,362.0L1046.7,372.0L1043.8,379.0L1041.0,382.9L1039.0,384.0L1033.0,385.0L1030.0,384.4L1027.9,382.0L1024.8,376.0L1021.9,367.0L1019.7,357.0L1018.4,347.0L1017.2,324.0L1018.5,302.0L1019.9,292.0L1022.0,282.5L1024.4,275.0L1027.0,269.4L1030.0,265.3ZM660.9,460.0L663.0,459.1L665.0,459.1L667.0,459.9L669.0,461.8L672.0,467.7L673.4,475.0L673.1,484.0L671.1,491.0L668.0,495.7L666.0,497.1L664.0,497.5L662.0,497.2L660.0,496.1L657.4,493.0L655.0,487.6L653.8,481.0L654.0,474.0L655.3,468.0L657.9,463.0Z" fill="rgb(224,255,255)"/>
<path fill-rule="evenodd" d="M575.0,249.0L577.2,248.0L626.0,248.0L641.0,253.5L654.5,260.0L661.2,265.0L662.3,267.0L662.4,269.0L661.5,271.0L659.6,273.0L655.1,276.0L647.8,279.0L638.0,281.3L628.0,282.6L618.0,282.9L608.0,282.1L599.0,280.5L588.0,277.3L577.6,273.0L569.2,268.0L563.7,263.0L561.8,259.0L562.7,256.0L566.6,253.0ZM727.5,249.0L730.5,248.0L752.1,248.0L759.0,250.6L764.0,253.8L767.0,256.5L770.0,260.3L772.1,264.0L773.4,268.0L773.7,275.0L772.9,278.0L771.0,281.4L767.0,285.0L762.0,287.1L756.0,287.9L749.0,287.4L740.0,285.6L729.2,282.0L717.9,277.0L711.2,273.0L707.4,269.0L707.0,267.0L708.1,264.0L711.4,260.0L717.1,255.0L722.0,251.7ZM836.6,248.0L905.0,248.0L906.3,255.0L910.0,264.0L910.7,280.0L910.3,284.0L906.1,302.0L901.0,319.0L893.0,330.9L889.2,334.0L880.0,338.6L877.2,338.0L868.5,334.0L853.0,319.2L844.1,305.0L840.0,300.3L838.8,297.0L837.0,287.3L834.5,268.0ZM199.0,264.0L211.0,263.8L223.0,265.7L233.0,269.3L242.0,274.8L258.0,289.4L261.2,293.0L262.8,296.0L263.2,298.0L262.6,301.0L256.5,311.0L256.7,314.0L258.0,316.0L264.0,320.7L273.0,325.6L282.0,329.3L291.0,331.9L303.0,334.1L317.0,335.6L382.4,338.0L423.2,342.0L488.0,351.0L560.0,362.3L659.0,376.5L709.0,382.7L719.8,385.0L722.1,386.0L723.3,387.0L723.2,388.0L720.0,389.9L716.3,391.0L704.5,393.0L690.0,394.0L673.0,393.8L615.0,389.2L558.0,386.6L535.0,384.3L490.9,379.0L471.0,377.8L458.0,378.7L440.0,382.5L429.0,384.1L385.0,387.0L348.0,390.2L332.0,390.5L298.0,388.6L278.0,386.2L252.0,381.5L230.0,376.5L210.9,371.0L197.6,366.0L187.2,361.0L176.3,354.0L164.0,343.8L161.0,342.4L159.0,342.5L156.9,344.0L154.6,348.0L150.0,353.0L141.0,366.0L139.4,370.0L138.8,374.0L137.7,376.0L137.1,380.0L136.3,381.0L135.9,385.0L134.8,387.0L134.5,391.0L133.4,393.0L133.2,397.0L132.1,399.0L131.7,421.0L132.7,422.0L132.7,424.0L133.7,425.0L133.7,427.0L134.7,428.0L134.7,430.0L135.7,431.0L135.7,434.0L136.7,435.0L136.7,437.0L137.7,438.0L137.7,440.0L138.7,441.0L138.7,443.0L139.7,444.0L139.7,446.0L140.7,447.0L140.7,448.0L141.7,449.0L142.7,452.0L143.7,453.0L143.7,454.0L144.7,455.0L144.7,456.0L145.7,457.0L145.7,458.0L146.7,459.0L146.7,460.0L147.7,461.0L147.6,463.0L150.6,468.0L150.6,470.0L153.6,475.0L153.6,476.0L154.6,477.0L154.6,478.0L156.6,480.0L156.6,481.0L159.6,484.0L159.6,485.0L162.6,488.0L162.6,489.0L166.6,493.0L166.6,494.0L169.6,497.0L169.6,498.0L210.6,539.0L210.6,540.0L221.6,551.0L221.6,552.0L236.2,567.0L236.0,567.4L100.0,567.4L100.0,336.2L111.0,330.9L122.0,324.2L152.0,300.8L152.8,300.0L155.0,291.0L157.4,286.0L162.1,280.0L167.9,275.0L174.5,271.0L182.0,267.8L190.0,265.5Z" fill="rgb(160,255,255)"/>
<path fill-rule="evenodd" d="M843.7,248.0L895.5,248.0L896.9,255.0L899.6,263.0L901.0,280.0L900.9,284.0L898.2,302.0L896.7,309.0L891.4,318.0L889.0,320.4L881.0,325.4L878.0,326.0L868.0,321.5L858.1,312.0L852.0,304.7L847.0,302.0L845.2,300.0L841.8,268.0ZM598.3,251.0L605.0,250.4L612.0,251.1L620.0,252.9L627.0,255.4L633.9,259.0L637.9,262.0L640.6,266.0L640.6,269.0L638.0,271.9L634.0,273.8L628.0,275.2L621.0,275.8L613.0,275.7L606.0,274.9L599.0,273.3L593.0,271.2L588.8,269.0L585.1,266.0L583.9,264.0L583.9,261.0L585.8,258.0L589.1,255.0L593.0,252.7ZM743.4,255.0L749.0,255.4L754.0,256.7L758.5,259.0L762.1,262.0L764.8,266.0L765.9,270.0L765.3,274.0L763.1,277.0L760.0,278.9L757.0,279.7L753.0,280.0L748.0,279.5L742.4,278.0L737.7,276.0L734.0,273.8L730.9,271.0L729.4,269.0L728.5,266.0L729.0,263.0L730.1,261.0L732.0,258.9L735.0,257.0L739.0,255.6ZM214.2,291.0L225.0,291.4L235.0,293.6L238.5,295.0L241.6,297.0L242.9,299.0L242.9,301.0L240.6,304.0L237.0,306.2L231.0,308.7L225.0,310.2L214.0,311.3L209.0,310.8L204.0,309.6L199.0,307.3L196.2,305.0L194.7,302.0L195.0,299.0L197.5,296.0L202.0,293.5L208.0,291.7ZM321.2,345.0L391.0,344.1L408.7,345.0L428.0,347.0L496.5,356.0L563.0,366.4L624.2,375.0L661.9,382.0L669.9,384.0L672.5,385.0L672.8,386.0L665.0,386.9L652.0,386.6L553.0,381.1L522.0,377.6L468.0,368.9L447.0,367.1L439.0,367.3L432.0,368.2L410.0,375.1L400.3,377.0L389.0,378.4L373.0,379.5L358.0,379.9L345.0,379.5L331.0,378.2L309.0,374.6L290.0,369.4L281.7,366.0L276.2,363.0L272.4,360.0L270.6,357.0L270.8,355.0L273.0,352.5L276.0,350.9L282.1,349.0L299.0,346.4ZM139.4,359.0L140.0,358.3L140.0,359.0ZM138.5,360.0L139.0,359.4L139.0,360.4Z" fill="rgb(60,225,255)"/>
<path fill-rule="evenodd" d="M852.8,248.0L886.2,248.0L887.8,257.0L892.3,265.0L894.3,283.0L892.3,297.0L890.3,305.0L886.1,313.0L880.0,317.8L878.0,318.0L874.0,316.4L865.4,311.0L862.0,308.0L857.3,302.0L852.5,299.0L851.0,297.0L849.7,268.0ZM612.7,263.0L614.0,262.4L615.7,263.0L615.0,263.6ZM345.0,352.0L367.0,352.6L386.0,354.8L392.0,356.4L395.6,358.0L397.5,360.0L398.0,362.0L396.5,365.0L393.0,367.5L387.0,369.7L380.0,371.1L370.0,372.0L360.0,372.1L349.0,371.4L339.0,370.0L330.0,367.9L322.1,365.0L317.5,362.0L316.3,360.0L316.3,359.0L317.8,357.0L319.3,356.0L325.3,354.0L334.0,352.7ZM483.2,362.0L487.0,361.3L494.0,361.4L518.4,364.0L550.8,370.0L558.7,372.0L561.5,373.0L562.4,374.0L557.0,374.9L547.0,374.8L535.8,374.0L520.5,372.0L496.2,367.0L486.2,364.0L484.0,363.0Z" fill="rgb(30,195,255)"/>
<path fill-rule="evenodd" d="M870.3,256.0L873.0,255.7L882.2,259.0L884.7,262.0L886.7,268.0L888.4,282.0L886.5,294.0L883.0,303.1L881.0,305.4L878.0,307.0L875.4,306.0L869.7,301.0L866.1,294.0L859.0,285.7L857.7,283.0L857.6,269.0L858.6,265.0L862.0,259.7Z" fill="rgb(95,165,255)"/>
<path fill-rule="evenodd" d="M872.5,260.0L876.0,259.7L881.0,261.0L882.5,263.0L883.7,267.0L883.6,271.0L880.8,278.0L879.0,280.0L875.0,281.9L872.0,280.9L867.4,276.0L864.8,266.0L865.1,264.0L866.0,263.0Z" fill="rgb(125,130,245)"/>
<path fill-rule="evenodd" d="M877.3,263.0L879.0,263.1L881.0,265.0L881.2,267.0L880.0,268.4L878.0,268.7L875.9,267.0L875.3,265.0L876.0,263.6Z" fill="rgb(165,95,225)"/>
</g>
<clipPath id="pk"><path d="M104.5,253.3 L543.5,253.3 L598.4,278.6 L615.0,286.2 L636.0,293.7 L694.3,307.0 L861.5,349.3 L822.2,367.5 L669.0,362.5 L663.5,361.4 L656.0,359.9 L647.1,358.1 L637.4,356.1 L627.5,354.0 L618.0,352.0 L608.5,349.8 L598.5,347.4 L588.3,345.0 L578.3,342.5 L568.7,340.3 L560.0,338.5 L552.7,337.1 L546.6,336.2 L541.1,335.4 L535.3,334.7 L528.5,333.8 L520.0,332.6 L509.4,331.0 L497.2,329.2 L484.1,327.2 L470.6,325.1 L457.3,323.2 L445.0,321.4 L433.5,319.8 L422.2,318.3 L411.2,316.9 L400.6,315.5 L390.1,314.2 L380.0,313.0 L370.2,311.8 L360.7,310.8 L351.6,309.7 L342.6,308.8 L333.8,308.0 L325.0,307.3 L316.7,306.8 L308.9,306.4 L301.2,306.2 L293.3,306.0 L284.7,305.8 L275.0,305.5 L264.2,305.1 L252.6,304.7 L240.3,304.3 L227.4,303.9 L214.0,303.5 L200.0,303.0 L184.2,302.5 L166.1,301.9 L147.6,301.3 L130.0,300.8 L115.1,300.3 L104.5,300.0 Z"/></clipPath>
<g clip-path="url(#pk)">
<path d="M104.5,253.3 L543.5,253.3 L598.4,278.6 L615.0,286.2 L636.0,293.7 L694.3,307.0 L861.5,349.3 L822.2,367.5 L669.0,362.5 L663.5,361.4 L656.0,359.9 L647.1,358.1 L637.4,356.1 L627.5,354.0 L618.0,352.0 L608.5,349.8 L598.5,347.4 L588.3,345.0 L578.3,342.5 L568.7,340.3 L560.0,338.5 L552.7,337.1 L546.6,336.2 L541.1,335.4 L535.3,334.7 L528.5,333.8 L520.0,332.6 L509.4,331.0 L497.2,329.2 L484.1,327.2 L470.6,325.1 L457.3,323.2 L445.0,321.4 L433.5,319.8 L422.2,318.3 L411.2,316.9 L400.6,315.5 L390.1,314.2 L380.0,313.0 L370.2,311.8 L360.7,310.8 L351.6,309.7 L342.6,308.8 L333.8,308.0 L325.0,307.3 L316.7,306.8 L308.9,306.4 L301.2,306.2 L293.3,306.0 L284.7,305.8 L275.0,305.5 L264.2,305.1 L252.6,304.7 L240.3,304.3 L227.4,303.9 L214.0,303.5 L200.0,303.0 L184.2,302.5 L166.1,301.9 L147.6,301.3 L130.0,300.8 L115.1,300.3 L104.5,300.0 Z" fill="rgb(255,200,200)"/>
<g clip-path="url(#dm)">
<path d="M100,248H872V374H100Z" fill="rgb(255,185,125)"/>
<path fill-rule="evenodd" d="M292.7,249.0L293.7,248.0L431.0,248.0L441.0,252.8L451.0,258.5L474.4,275.0L482.5,280.0L491.1,284.0L501.0,286.7L513.0,287.8L544.0,287.6L561.0,288.3L611.0,294.6L639.0,296.9L663.0,297.8L692.0,297.8L704.0,298.3L721.0,300.2L754.0,305.7L765.0,306.6L772.0,305.8L775.0,304.7L777.5,303.0L781.2,298.0L785.1,288.0L786.6,280.0L786.6,272.0L785.4,264.0L781.8,248.0L823.9,248.0L825.9,274.0L827.3,286.0L824.0,308.0L824.6,314.0L827.0,318.0L832.0,322.6L852.0,334.7L855.3,341.0L861.0,349.6L864.0,351.4L870.0,353.9L870.0,366.6L866.0,369.6L861.2,372.0L713.5,372.0L693.0,370.1L651.0,368.1L609.9,363.0L486.0,343.5L360.2,327.0L335.0,323.0L325.0,320.7L316.3,318.0L311.9,316.0L308.3,313.0L307.7,310.0L311.2,304.0L311.6,302.0L311.1,300.0L308.4,296.0L298.0,285.8L292.9,280.0L288.9,274.0L286.6,268.0L286.0,263.0L286.8,258.0L289.0,253.5Z" fill="rgb(255,153,0)"/>
<path fill-rule="evenodd" d="M322.6,249.0L326.6,248.0L381.1,248.0L396.0,251.4L409.0,255.7L422.3,262.0L434.5,270.0L458.1,291.0L465.6,299.0L466.6,301.0L466.9,303.0L465.0,305.8L460.4,308.0L446.1,312.0L444.7,313.0L444.7,314.0L445.8,315.0L450.6,317.0L461.6,320.0L562.0,343.5L579.0,346.3L597.0,348.3L607.0,348.5L608.8,348.0L608.7,347.0L600.1,342.0L582.1,334.0L571.0,330.0L543.0,321.5L531.0,316.6L524.9,313.0L521.9,310.0L521.1,307.0L523.0,304.1L526.7,302.0L531.0,300.6L543.0,299.1L553.0,299.0L578.0,300.2L607.0,300.2L627.0,301.7L648.0,304.6L664.0,307.7L707.3,318.0L720.0,320.3L731.0,321.6L743.0,321.2L753.0,317.8L758.0,316.8L778.0,315.5L794.0,313.4L799.0,313.7L804.0,315.5L810.0,318.6L817.5,324.0L826.0,333.2L835.6,341.0L839.7,345.0L842.7,350.0L842.8,354.0L841.0,357.0L836.0,360.3L829.0,362.5L820.0,364.1L804.0,365.6L770.0,367.6L755.0,367.9L741.0,367.4L725.0,365.9L678.0,359.0L650.0,355.8L638.0,355.7L631.7,358.0L628.0,358.4L616.3,358.0L601.9,356.0L553.0,347.4L415.0,330.0L379.3,325.0L362.0,322.0L349.6,319.0L342.4,316.0L341.2,315.0L340.4,313.0L343.8,307.0L343.7,306.0L342.5,304.0L338.5,301.0L322.0,291.7L314.0,286.3L307.0,280.0L302.7,274.0L301.2,270.0L301.0,266.0L302.0,262.4L304.0,259.2L307.0,256.3L311.0,253.6L316.0,251.2ZM797.0,249.0L798.5,248.0L804.2,248.0L808.0,250.7L812.0,257.2L814.1,266.0L813.8,277.0L811.0,288.6L807.0,296.5L805.0,298.7L802.0,300.4L800.0,300.2L798.0,298.4L796.9,296.0L795.9,291.0L793.6,259.0L794.5,253.0Z" fill="rgb(255,125,0)"/>
<path fill-rule="evenodd" d="M342.1,253.0L357.0,252.5L373.0,253.9L388.0,257.1L401.9,262.0L413.0,268.1L418.2,272.0L422.3,276.0L425.3,280.0L427.4,284.0L428.3,288.0L427.7,291.0L426.4,293.0L423.7,295.0L415.1,298.0L402.0,299.9L387.0,300.4L373.0,299.5L360.0,297.5L347.0,294.1L335.0,289.6L325.0,284.2L318.0,278.6L314.2,273.0L313.4,270.0L313.6,267.0L315.0,264.0L316.6,262.0L322.5,258.0L331.0,255.0ZM604.7,306.0L622.0,306.1L641.0,308.7L657.0,312.7L686.0,322.5L701.0,326.7L722.5,331.0L754.0,336.0L762.0,336.1L770.0,334.8L781.0,331.2L794.0,324.7L799.0,323.6L804.0,323.8L809.0,325.8L812.1,329.0L813.1,332.0L814.1,338.0L816.9,344.0L817.6,347.0L816.9,349.0L814.4,351.0L811.0,352.3L806.0,353.3L797.0,353.8L774.0,353.5L751.0,356.7L737.0,357.3L717.0,355.5L678.0,348.9L633.0,342.3L618.0,338.8L605.0,334.6L579.0,323.5L558.8,316.0L553.7,313.0L552.9,312.0L553.0,310.7L554.0,309.8L557.0,308.9L581.0,308.4Z" fill="rgb(255,93,0)"/>
<path fill-rule="evenodd" d="M343.2,259.0L354.0,258.1L366.0,258.7L378.0,260.7L388.7,264.0L398.8,269.0L404.9,274.0L408.0,279.0L408.4,282.0L407.8,284.0L405.3,287.0L400.0,289.7L392.0,291.5L383.0,292.3L373.0,292.1L362.0,290.9L352.0,288.7L343.5,286.0L336.8,283.0L330.6,279.0L326.8,275.0L325.3,271.0L326.3,267.0L330.0,263.4L335.1,261.0ZM610.3,311.0L619.0,310.6L629.0,311.2L639.0,313.0L649.3,316.0L660.7,321.0L668.8,326.0L674.0,331.0L674.6,333.0L674.3,334.0L671.0,336.0L666.0,337.1L657.0,337.9L647.0,337.9L629.0,335.9L613.0,331.6L605.0,328.2L599.3,325.0L595.5,322.0L593.5,319.0L593.8,317.0L594.6,316.0L597.9,314.0L604.0,312.1ZM711.7,339.0L721.0,338.9L731.0,340.4L738.0,343.0L740.0,345.0L740.1,346.0L739.1,347.0L737.0,347.9L732.0,348.5L725.0,348.1L718.7,347.0L712.5,345.0L707.7,342.0L707.4,341.0L708.2,340.0Z" fill="rgb(255,51,0)"/>
<path fill-rule="evenodd" d="M355.5,264.0L368.0,264.8L380.1,268.0L384.3,270.0L388.4,273.0L390.6,276.0L390.7,279.0L389.4,281.0L386.0,283.1L381.0,284.5L375.0,285.1L368.0,285.0L361.0,284.2L349.0,280.9L345.0,279.0L340.9,276.0L339.0,273.0L339.2,270.0L340.8,268.0L344.5,266.0L349.0,264.7ZM619.6,316.0L630.0,316.4L640.2,319.0L647.5,323.0L649.3,325.0L649.8,327.0L648.3,329.0L646.2,330.0L639.0,331.1L629.0,330.3L619.8,328.0L613.6,325.0L611.2,323.0L610.2,321.0L610.8,319.0L612.1,318.0L615.0,316.8Z" fill="rgb(255,0,0)"/>
<path fill-rule="evenodd" d="M139.3,249.0L141.1,248.0L255.2,248.0L260.0,254.7L270.3,273.0L283.2,291.0L285.4,295.0L286.0,298.0L285.7,300.0L280.9,309.0L280.9,311.0L282.0,313.0L285.5,316.0L291.4,319.0L299.6,322.0L309.0,324.6L320.0,326.9L334.0,328.9L397.0,335.2L449.4,342.0L496.0,348.7L580.9,362.0L651.1,372.0L100.0,372.0L100.0,301.3L102.9,300.0L104.8,291.0L107.4,283.0L110.9,276.0L114.8,270.0L119.9,264.0L125.1,259.0L132.0,253.6ZM535.4,248.0L769.9,248.0L774.9,255.0L778.1,262.0L780.1,270.0L780.2,277.0L778.0,284.6L776.0,288.0L773.4,291.0L770.0,293.6L767.0,295.2L760.0,296.7L754.0,296.7L747.0,295.9L708.0,287.6L685.0,284.7L670.0,285.0L646.0,288.4L635.0,289.5L624.0,289.6L612.0,288.7L598.0,286.4L584.0,282.7L570.0,277.7L557.8,272.0L547.0,265.3L539.7,259.0L535.6,253.0L535.0,250.0ZM827.9,248.0L870.0,248.0L870.0,348.4L860.0,339.5L858.0,336.9L854.1,327.0L838.0,301.0L834.2,294.0L830.0,276.4L829.4,262.0Z" fill="rgb(224,200,200)"/>
<path fill-rule="evenodd" d="M575.0,249.0L577.2,248.0L626.0,248.0L641.0,253.5L654.5,260.0L661.2,265.0L662.3,267.0L662.4,269.0L661.5,271.0L659.6,273.0L655.1,276.0L647.8,279.0L638.0,281.3L628.0,282.6L618.0,282.9L608.0,282.1L599.0,280.5L588.0,277.3L577.6,273.0L569.2,268.0L563.7,263.0L561.8,259.0L562.7,256.0L566.6,253.0ZM727.5,249.0L730.5,248.0L752.1,248.0L759.0,250.6L764.0,253.8L767.0,256.5L770.0,260.3L772.1,264.0L773.4,268.0L773.7,275.0L772.9,278.0L771.0,281.4L767.0,285.0L762.0,287.1L756.0,287.9L749.0,287.4L740.0,285.6L729.2,282.0L717.9,277.0L711.2,273.0L707.4,269.0L707.0,267.0L708.1,264.0L711.4,260.0L717.1,255.0L722.0,251.7ZM836.6,248.0L870.0,248.0L870.0,334.8L866.0,332.0L853.0,319.2L844.8,306.0L841.0,301.7L839.4,299.0L837.0,287.3L834.5,268.0ZM199.0,264.0L211.0,263.8L223.0,265.7L233.0,269.3L242.0,274.8L258.0,289.4L261.2,293.0L262.8,296.0L263.2,298.0L262.6,301.0L256.5,311.0L256.7,314.0L258.0,316.0L263.0,320.1L272.0,325.1L281.0,328.9L290.0,331.7L302.2,334.0L318.0,335.7L380.0,337.9L415.1,341.0L488.0,351.0L560.0,362.3L628.6,372.0L214.0,372.0L200.0,367.0L187.2,361.0L176.3,354.0L164.0,343.8L160.0,342.3L157.0,343.9L154.6,348.0L150.0,353.0L142.1,364.0L139.4,370.0L139.2,372.0L100.0,372.0L100.0,336.2L111.0,330.9L122.0,324.2L152.0,300.8L152.8,300.0L155.0,291.0L157.4,286.0L162.1,280.0L167.9,275.0L174.5,271.0L182.0,267.8L190.0,265.5Z" fill="rgb(160,200,200)"/>
<path fill-rule="evenodd" d="M843.7,248.0L870.0,248.0L870.0,322.5L867.0,320.7L861.0,314.9L851.2,304.0L847.0,302.0L845.2,300.0L841.8,268.0ZM598.3,251.0L605.0,250.4L612.0,251.1L620.0,252.9L627.0,255.4L633.9,259.0L637.9,262.0L640.6,266.0L640.6,269.0L638.0,271.9L634.0,273.8L628.0,275.2L621.0,275.8L613.0,275.7L606.0,274.9L599.0,273.3L593.0,271.2L588.8,269.0L585.1,266.0L583.9,264.0L583.9,261.0L585.8,258.0L589.1,255.0L593.0,252.7ZM743.4,255.0L749.0,255.4L754.0,256.7L758.5,259.0L762.1,262.0L764.8,266.0L765.9,270.0L765.3,274.0L763.1,277.0L760.0,278.9L757.0,279.7L753.0,280.0L748.0,279.5L742.4,278.0L737.7,276.0L734.0,273.8L730.9,271.0L729.4,269.0L728.5,266.0L729.0,263.0L730.1,261.0L732.0,258.9L735.0,257.0L739.0,255.6ZM214.2,291.0L225.0,291.4L235.0,293.6L238.5,295.0L241.6,297.0L242.9,299.0L242.9,301.0L240.6,304.0L237.0,306.2L231.0,308.7L225.0,310.2L214.0,311.3L209.0,310.8L204.0,309.6L199.0,307.3L196.2,305.0L194.7,302.0L195.0,299.0L197.5,296.0L202.0,293.5L208.0,291.7ZM321.2,345.0L387.0,344.1L415.0,345.6L496.5,356.0L563.0,366.4L603.6,372.0L488.1,372.0L463.0,368.3L445.0,367.1L432.0,368.2L419.9,372.0L298.4,372.0L286.3,368.0L276.2,363.0L272.4,360.0L271.0,358.0L270.5,356.0L271.3,354.0L276.0,350.9L287.0,348.0L302.0,346.1ZM139.4,359.0L140.0,358.3L140.0,359.0ZM138.5,360.0L139.0,359.4L139.0,360.4Z" fill="rgb(60,176,200)"/>
<path fill-rule="evenodd" d="M852.8,248.0L870.0,248.0L870.0,314.2L863.0,309.0L857.3,302.0L852.5,299.0L851.0,297.0L849.7,268.0ZM612.7,263.0L614.0,262.4L615.7,263.0L615.0,263.6ZM345.0,352.0L367.0,352.6L386.0,354.8L392.0,356.4L395.6,358.0L397.5,360.0L398.0,362.0L396.5,365.0L393.0,367.5L387.0,369.7L380.0,371.1L369.7,372.0L357.8,372.0L339.0,370.0L330.0,367.9L322.1,365.0L317.5,362.0L316.3,360.0L316.3,359.0L317.8,357.0L319.3,356.0L325.3,354.0L334.0,352.7ZM483.2,362.0L486.0,361.3L492.0,361.3L511.2,363.0L536.1,367.0L558.7,372.0L520.5,372.0L496.2,367.0L486.2,364.0L484.0,363.0Z" fill="rgb(30,153,200)"/>
<path fill-rule="evenodd" d="M867.7,257.0L870.0,256.1L870.0,301.3L868.4,299.0L866.1,294.0L858.5,285.0L857.6,282.0L857.6,269.0L858.2,266.0L861.7,260.0Z" fill="rgb(95,129,200)"/>
<path fill-rule="evenodd" d="M867.8,262.0L870.0,261.0L870.0,279.0L867.0,275.0L864.8,266.0L865.1,264.0Z" fill="rgb(125,102,192)"/>
</g></g>
<path d="M104.5,300.0 L115.1,300.3 L130.0,300.8 L147.6,301.3 L166.1,301.9 L184.2,302.5 L200.0,303.0 L214.0,303.5 L227.4,303.9 L240.3,304.3 L252.6,304.7 L264.2,305.1 L275.0,305.5 L284.7,305.8 L293.3,306.0 L301.2,306.2 L308.9,306.4 L316.7,306.8 L325.0,307.3 L333.8,308.0 L342.6,308.8 L351.6,309.7 L360.7,310.8 L370.2,311.8 L380.0,313.0 L390.1,314.2 L400.6,315.5 L411.2,316.9 L422.2,318.3 L433.5,319.8 L445.0,321.4 L457.3,323.2 L470.6,325.1 L484.1,327.2 L497.2,329.2 L509.4,331.0 L520.0,332.6 L528.5,333.8 L535.3,334.7 L541.1,335.4 L546.6,336.2 L552.7,337.1 L560.0,338.5 L568.7,340.3 L578.3,342.5 L588.3,345.0 L598.5,347.4 L608.5,349.8 L618.0,352.0 L627.5,354.0 L637.4,356.1 L647.1,358.1 L656.0,359.9 L663.5,361.4 L669.0,362.5 L822.2,367.5 L822.2,367.5 L734.8,396.2 L661.0,398.0 L606.0,396.6 L553.0,395.0 L550.5,394.5 L547.0,393.9 L542.9,393.2 L538.4,392.3 L534.0,391.4 L530.0,390.5 L526.5,389.6 L523.2,388.8 L519.9,387.8 L516.5,386.8 L512.6,385.5 L508.0,384.0 L502.7,382.1 L497.0,379.9 L490.8,377.5 L484.1,375.0 L477.2,372.5 L470.0,370.2 L462.4,368.0 L454.2,365.8 L445.8,363.7 L437.1,361.6 L428.5,359.6 L420.0,357.7 L411.7,355.8 L403.3,354.0 L395.0,352.2 L386.7,350.5 L378.3,348.9 L370.0,347.6 L361.7,346.4 L353.3,345.5 L345.0,344.6 L336.7,343.9 L328.3,343.3 L320.0,342.8 L311.9,342.4 L304.1,342.2 L296.2,342.2 L288.1,342.1 L279.5,342.1 L270.0,342.1 L259.8,342.0 L249.1,342.0 L237.8,342.0 L226.0,342.0 L213.4,342.0 L200.0,342.0 L184.5,342.0 L166.5,342.0 L147.9,342.0 L130.2,342.0 L115.2,342.0 L104.5,342.0 Z" fill="rgba(0,255,255,0.5)"/>
<path d="M104.5,342.0 L200.0,342.0 L270.0,342.1 L320.0,342.8 L370.0,347.6 L420.0,357.7 L470.0,370.2 L471.8,370.9 L474.2,371.7 L476.9,372.7 L480.0,373.7 L483.3,374.9 L486.9,376.2 L490.5,377.5 L494.2,378.8 L497.9,380.2 L501.5,381.5 L504.9,382.8 L508.0,384.0 L510.9,385.2 L513.8,386.3 L516.5,387.4 L519.2,388.5 L521.9,389.7 L524.5,390.8 L527.2,392.0 L530.0,393.2 L532.8,394.4 L535.7,395.7 L538.7,397.1 L541.9,398.6 L545.3,400.2 L549.0,401.9 L552.9,403.8 L556.9,405.7 L561.0,407.7 L565.2,409.7 L569.2,411.6 L573.2,413.6 L577.0,415.4 L580.5,417.2 L583.7,418.8 L586.6,420.3 L589.1,421.6 L591.3,422.7 L593.3,423.7 L595.0,424.6 L596.6,425.5 L598.0,426.3 L599.3,427.0 L600.6,427.8 L601.8,428.6 L603.1,429.5 L604.5,430.4 L606.0,431.5 L607.5,432.6 L608.8,433.6 L610.1,434.6 L611.4,435.6 L612.6,436.6 L613.8,437.7 L615.1,438.8 L616.6,440.2 L618.1,441.7 L619.8,443.4 L621.7,445.3 L623.9,447.5 L626.3,450.0 L629.0,452.8 L631.9,455.7 L634.9,458.9 L638.1,462.3 L641.3,465.8 L644.7,469.4 L648.0,473.1 L651.4,476.8 L654.8,480.6 L658.0,484.4 L661.2,488.1 L664.3,491.8 L667.5,495.6 L670.7,499.4 L673.9,503.3 L677.1,507.2 L680.3,511.2 L683.5,515.2 L686.6,519.3 L689.7,523.5 L692.7,527.8 L695.7,532.1 L698.5,536.6 L701.3,541.2 L704.0,545.9 L706.6,550.7 L709.2,555.7 L711.7,560.7 L714.2,565.7 L716.7,570.8 L719.1,575.9 L721.4,581.1 L723.7,586.2 L726.0,591.3 L728.3,596.3 L730.6,601.5 L732.9,607.0 L735.3,612.7 L737.7,618.6 L740.0,624.4 L742.3,630.1 L744.4,635.7 L746.4,640.9 L748.3,645.7 L749.9,649.9 L751.3,653.6 L752.5,656.5 L627.6,656.5 L626.5,654.7 L625.2,652.3 L623.7,649.6 L621.9,646.6 L620.0,643.3 L618.0,639.8 L615.9,636.1 L613.8,632.5 L611.6,628.8 L609.4,625.2 L607.3,621.8 L605.2,618.6 L603.2,615.6 L601.2,612.6 L599.2,609.7 L597.2,606.8 L595.1,603.9 L593.1,601.0 L590.9,598.1 L588.8,595.2 L586.5,592.3 L584.1,589.3 L581.7,586.3 L579.1,583.2 L576.4,580.0 L573.5,576.8 L570.6,573.4 L567.5,570.0 L564.4,566.6 L561.2,563.1 L558.0,559.7 L554.7,556.4 L551.5,553.1 L548.2,549.9 L545.0,546.9 L541.9,544.0 L538.8,541.3 L535.7,538.6 L532.6,536.1 L529.5,533.6 L526.4,531.2 L523.3,528.9 L520.1,526.6 L517.0,524.4 L513.9,522.3 L510.8,520.2 L507.7,518.1 L504.6,516.1 L501.5,514.1 L498.4,512.2 L495.3,510.3 L492.2,508.5 L489.1,506.8 L486.0,505.1 L482.8,503.4 L479.7,501.8 L476.6,500.2 L473.5,498.6 L470.4,497.1 L467.3,495.6 L464.3,494.1 L461.5,492.7 L458.7,491.4 L456.0,490.1 L453.4,488.8 L450.6,487.6 L447.8,486.3 L444.8,485.1 L441.6,484.0 L438.1,482.8 L434.2,481.7 L430.0,480.5 L425.5,479.4 L420.8,478.2 L416.0,477.1 L410.9,476.0 L405.7,474.9 L400.2,473.9 L394.4,472.8 L388.4,471.8 L382.0,470.8 L375.4,469.9 L368.4,468.9 L361.0,468.0 L353.0,467.1 L344.3,466.2 L335.0,465.3 L325.3,464.4 L315.2,463.5 L305.0,462.7 L294.8,461.9 L284.7,461.1 L275.0,460.4 L265.7,459.8 L257.0,459.3 L249.0,458.8 L241.8,458.4 L235.1,458.2 L228.9,458.0 L223.1,457.9 L217.5,457.8 L212.2,457.8 L207.0,457.9 L201.9,457.9 L196.7,457.9 L191.4,458.0 L185.8,458.0 L180.0,458.0 L173.7,458.0 L166.9,458.0 L159.8,457.9 L152.5,457.9 L145.2,457.9 L137.9,457.9 L130.9,458.0 L124.3,458.0 L118.2,458.0 L112.8,458.0 L108.2,458.0 L104.5,458.0 Z" fill="rgba(146,140,190,0.5)"/>
<path d="M905.1,253.3 L1324.5,253.3 L1324.5,301.2 L1099.4,300.0 L1020.0,294.5 L999.2,292.3 L964.9,281.0 L929.8,267.0 Z" fill="rgba(236,126,36,0.5)"/>
<path d="M837.2,253.3 L905.1,253.3 L929.8,267.0 L964.9,281.0 L999.2,292.3 L1020.0,294.5 L1099.4,300.0 L1324.5,301.2 L1324.5,342.5 L1053.5,335.6 L1020.0,330.4 L1000.0,328.0 L969.4,322.2 L915.6,299.0 L870.8,290.8 L834.6,301.6 L797.2,276.9 Z" fill="rgba(0,255,255,0.5)"/>
<path d="M1324.5,342.5 L1242.0,343.2 L1240.5,343.9 L1238.6,344.7 L1236.3,345.7 L1233.8,346.8 L1231.1,348.0 L1228.2,349.3 L1225.2,350.6 L1222.2,352.1 L1219.3,353.5 L1216.5,355.1 L1213.9,356.6 L1211.5,358.2 L1209.3,359.8 L1207.1,361.5 L1205.0,363.3 L1202.9,365.1 L1200.9,367.0 L1198.9,368.9 L1197.0,370.9 L1195.2,372.9 L1193.4,374.9 L1191.7,377.0 L1190.1,379.1 L1188.6,381.2 L1187.1,383.4 L1185.7,385.6 L1184.4,388.0 L1183.2,390.4 L1182.0,392.8 L1180.8,395.2 L1179.8,397.6 L1178.8,400.1 L1177.9,402.4 L1177.1,404.8 L1176.4,407.0 L1175.8,409.2 L1175.3,411.3 L1174.8,413.3 L1174.5,415.2 L1174.2,417.1 L1174.0,419.0 L1173.9,420.8 L1173.9,422.6 L1173.9,424.5 L1174.0,426.3 L1174.2,428.2 L1174.4,430.1 L1174.6,432.1 L1174.9,434.2 L1175.2,436.3 L1175.6,438.5 L1176.1,440.8 L1176.6,443.1 L1177.1,445.3 L1177.8,447.6 L1178.5,449.8 L1179.3,451.9 L1180.2,453.9 L1181.1,455.8 L1182.2,457.6 L1183.4,459.3 L1184.7,460.9 L1186.1,462.4 L1187.7,463.9 L1189.3,465.2 L1190.9,466.6 L1192.7,467.8 L1194.4,469.0 L1196.2,470.1 L1197.9,471.1 L1199.6,472.0 L1201.3,472.9 L1203.0,473.7 L1204.6,474.4 L1206.3,475.0 L1208.0,475.5 L1209.7,476.0 L1211.4,476.4 L1213.1,476.7 L1214.9,476.9 L1216.6,477.2 L1218.3,477.3 L1220.0,477.4 L1221.7,477.5 L1223.4,477.5 L1225.2,477.5 L1227.0,477.5 L1228.9,477.3 L1230.7,477.2 L1232.5,476.9 L1234.3,476.6 L1236.1,476.3 L1237.7,475.9 L1239.3,475.4 L1240.8,474.8 L1242.1,474.2 L1243.3,473.5 L1244.4,472.7 L1245.5,471.8 L1246.4,470.9 L1247.3,469.9 L1248.1,468.8 L1248.8,467.7 L1249.6,466.5 L1250.3,465.3 L1250.9,464.0 L1251.6,462.7 L1252.3,461.4 L1253.0,460.0 L1253.6,458.5 L1254.1,456.9 L1254.7,455.2 L1255.2,453.4 L1255.7,451.7 L1256.1,449.9 L1256.6,448.2 L1257.1,446.6 L1257.6,445.0 L1258.1,443.6 L1258.7,442.3 L1259.3,441.1 L1259.9,440.0 L1260.5,438.9 L1261.1,438.0 L1261.7,437.0 L1262.3,436.2 L1263.0,435.4 L1263.6,434.6 L1264.3,433.9 L1264.9,433.3 L1265.6,432.7 L1266.3,432.1 L1267.0,431.6 L1267.8,431.2 L1268.6,430.9 L1269.5,430.6 L1270.4,430.4 L1271.2,430.2 L1272.1,430.1 L1272.8,430.0 L1273.6,429.9 L1274.2,429.8 L1274.8,429.7 L1275.2,429.6 L1324.5,429.0 Z" fill="rgba(146,140,190,0.5)"/>
<path d="M550.2,253.3 L623.8,253.3 L597.8,274.7 Z" fill="rgba(236,126,36,0.5)"/>
<path d="M651.4,253.3 L726.3,253.3 L696.7,276.5 Z" fill="rgba(236,126,36,0.5)"/>
<path d="M726.3,253.3 L745.7,253.3 L735.2,260.9 Z" fill="rgba(236,126,36,0.5)"/>
<path d="M761.4,253.3 L838.3,253.3 L797.2,276.9 Z" fill="rgba(236,126,36,0.5)"/>
<path d="M623.8,253.3 L651.4,253.3 L696.7,276.5 L734.0,295.9 L693.7,304.8 L636.0,288.5 L618.0,283.3 L597.8,274.7 Z" fill="rgba(0,255,255,0.5)"/>
<path d="M696.7,276.5 L726.3,253.3 L735.2,260.9 L771.5,282.9 L793.5,295.0 L759.7,306.0 L734.0,295.9 Z" fill="rgba(0,255,255,0.5)"/>
<path d="M745.7,253.3 L761.4,253.3 L834.6,301.6 L817.4,307.2 L793.5,295.0 L771.5,282.9 L735.2,260.9 Z" fill="rgba(0,255,255,0.5)"/>
<g fill="none" stroke="#231f20" stroke-width="1.5" stroke-linejoin="round" stroke-linecap="round">
<path d="M104.5,300.0 L115.1,300.3 L130.0,300.8 L147.6,301.3 L166.1,301.9 L184.2,302.5 L200.0,303.0 L214.0,303.5 L227.4,303.9 L240.3,304.3 L252.6,304.7 L264.2,305.1 L275.0,305.5 L284.7,305.8 L293.3,306.0 L301.2,306.2 L308.9,306.4 L316.7,306.8 L325.0,307.3 L333.8,308.0 L342.6,308.8 L351.6,309.7 L360.7,310.8 L370.2,311.8 L380.0,313.0 L390.1,314.2 L400.6,315.5 L411.2,316.9 L422.2,318.3 L433.5,319.8 L445.0,321.4 L457.3,323.2 L470.6,325.1 L484.1,327.2 L497.2,329.2 L509.4,331.0 L520.0,332.6 L528.5,333.8 L535.3,334.7 L541.1,335.4 L546.6,336.2 L552.7,337.1 L560.0,338.5 L568.7,340.3 L578.3,342.5 L588.3,345.0 L598.5,347.4 L608.5,349.8 L618.0,352.0 L627.5,354.0 L637.4,356.1 L647.1,358.1 L656.0,359.9 L663.5,361.4 L669.0,362.5 L822.2,367.5"/>
<path d="M104.5,342.0 L115.2,342.0 L130.2,342.0 L147.9,342.0 L166.5,342.0 L184.5,342.0 L200.0,342.0 L213.4,342.0 L226.0,342.0 L237.8,342.0 L249.1,342.0 L259.8,342.0 L270.0,342.1 L279.5,342.1 L288.1,342.1 L296.2,342.2 L304.1,342.2 L311.9,342.4 L320.0,342.8 L328.3,343.3 L336.7,343.9 L345.0,344.6 L353.3,345.5 L361.7,346.4 L370.0,347.6 L378.3,348.9 L386.7,350.5 L395.0,352.2 L403.3,354.0 L411.7,355.8 L420.0,357.7 L428.5,359.6 L437.1,361.6 L445.8,363.7 L454.2,365.8 L462.4,368.0 L470.0,370.2 L477.2,372.5 L484.1,375.0 L490.8,377.5 L497.0,379.9 L502.7,382.1 L508.0,384.0 L512.6,385.5 L516.5,386.8 L519.9,387.8 L523.2,388.8 L526.5,389.6 L530.0,390.5 L534.0,391.4 L538.4,392.3 L542.9,393.2 L547.0,393.9 L550.5,394.5 L553.0,395.0 L606.0,396.6 L661.0,398.0 L734.8,396.2 L822.2,367.5"/>
<path d="M470.0,370.2 L471.8,370.9 L474.2,371.7 L476.9,372.7 L480.0,373.7 L483.3,374.9 L486.9,376.2 L490.5,377.5 L494.2,378.8 L497.9,380.2 L501.5,381.5 L504.9,382.8 L508.0,384.0 L510.9,385.2 L513.8,386.3 L516.5,387.4 L519.2,388.5 L521.9,389.7 L524.5,390.8 L527.2,392.0 L530.0,393.2 L532.8,394.4 L535.7,395.7 L538.7,397.1 L541.9,398.6 L545.3,400.2 L549.0,401.9 L552.9,403.8 L556.9,405.7 L561.0,407.7 L565.2,409.7 L569.2,411.6 L573.2,413.6 L577.0,415.4 L580.5,417.2 L583.7,418.8 L586.6,420.3 L589.1,421.6 L591.3,422.7 L593.3,423.7 L595.0,424.6 L596.6,425.5 L598.0,426.3 L599.3,427.0 L600.6,427.8 L601.8,428.6 L603.1,429.5 L604.5,430.4 L606.0,431.5 L607.5,432.6 L608.8,433.6 L610.1,434.6 L611.4,435.6 L612.6,436.6 L613.8,437.7 L615.1,438.8 L616.6,440.2 L618.1,441.7 L619.8,443.4 L621.7,445.3 L623.9,447.5 L626.3,450.0 L629.0,452.8 L631.9,455.7 L634.9,458.9 L638.1,462.3 L641.3,465.8 L644.7,469.4 L648.0,473.1 L651.4,476.8 L654.8,480.6 L658.0,484.4 L661.2,488.1 L664.3,491.8 L667.5,495.6 L670.7,499.4 L673.9,503.3 L677.1,507.2 L680.3,511.2 L683.5,515.2 L686.6,519.3 L689.7,523.5 L692.7,527.8 L695.7,532.1 L698.5,536.6 L701.3,541.2 L704.0,545.9 L706.6,550.7 L709.2,555.7 L711.7,560.7 L714.2,565.7 L716.7,570.8 L719.1,575.9 L721.4,581.1 L723.7,586.2 L726.0,591.3 L728.3,596.3 L730.6,601.5 L732.9,607.0 L735.3,612.7 L737.7,618.6 L740.0,624.4 L742.3,630.1 L744.4,635.7 L746.4,640.9 L748.3,645.7 L749.9,649.9 L751.3,653.6 L752.5,656.5"/>
<path d="M104.5,458.0 L108.2,458.0 L112.8,458.0 L118.2,458.0 L124.3,458.0 L130.9,458.0 L137.9,457.9 L145.2,457.9 L152.5,457.9 L159.8,457.9 L166.9,458.0 L173.7,458.0 L180.0,458.0 L185.8,458.0 L191.4,458.0 L196.7,457.9 L201.9,457.9 L207.0,457.9 L212.2,457.8 L217.5,457.8 L223.1,457.9 L228.9,458.0 L235.1,458.2 L241.8,458.4 L249.0,458.8 L257.0,459.3 L265.7,459.8 L275.0,460.4 L284.7,461.1 L294.8,461.9 L305.0,462.7 L315.2,463.5 L325.3,464.4 L335.0,465.3 L344.3,466.2 L353.0,467.1 L361.0,468.0 L368.4,468.9 L375.4,469.9 L382.0,470.8 L388.4,471.8 L394.4,472.8 L400.2,473.9 L405.7,474.9 L410.9,476.0 L416.0,477.1 L420.8,478.2 L425.5,479.4 L430.0,480.5 L434.2,481.7 L438.1,482.8 L441.6,484.0 L444.8,485.1 L447.8,486.3 L450.6,487.6 L453.4,488.8 L456.0,490.1 L458.7,491.4 L461.5,492.7 L464.3,494.1 L467.3,495.6 L470.4,497.1 L473.5,498.6 L476.6,500.2 L479.7,501.8 L482.8,503.4 L486.0,505.1 L489.1,506.8 L492.2,508.5 L495.3,510.3 L498.4,512.2 L501.5,514.1 L504.6,516.1 L507.7,518.1 L510.8,520.2 L513.9,522.3 L517.0,524.4 L520.1,526.6 L523.3,528.9 L526.4,531.2 L529.5,533.6 L532.6,536.1 L535.7,538.6 L538.8,541.3 L541.9,544.0 L545.0,546.9 L548.2,549.9 L551.5,553.1 L554.7,556.4 L558.0,559.7 L561.2,563.1 L564.4,566.6 L567.5,570.0 L570.6,573.4 L573.5,576.8 L576.4,580.0 L579.1,583.2 L581.7,586.3 L584.1,589.3 L586.5,592.3 L588.8,595.2 L590.9,598.1 L593.1,601.0 L595.1,603.9 L597.2,606.8 L599.2,609.7 L601.2,612.6 L603.2,615.6 L605.2,618.6 L607.3,621.8 L609.4,625.2 L611.6,628.8 L613.8,632.5 L615.9,636.1 L618.0,639.8 L620.0,643.3 L621.9,646.6 L623.7,649.6 L625.2,652.3 L626.5,654.7 L627.6,656.5"/>
<path d="M543.5,253.3 L598.4,278.6 L615.0,286.2 L636.0,293.7 L694.3,307.0 L861.5,349.3 L822.2,367.5"/>
<path d="M905.1,253.3 L929.8,267.0 L964.9,281.0 L999.2,292.3 L1020.0,294.5 L1099.4,300.0 L1324.5,301.2"/>
<path d="M797.2,276.9 L837.2,253.3"/>
<path d="M834.6,301.6 L870.8,290.8 L915.6,299.0 L969.4,322.2 L1000.0,328.0 L1020.0,330.4 L1053.5,335.6 L1324.5,342.5"/>
<path d="M1324.5,342.5 L1242.0,343.2 L1240.5,343.9 L1238.6,344.7 L1236.3,345.7 L1233.8,346.8 L1231.1,348.0 L1228.2,349.3 L1225.2,350.6 L1222.2,352.1 L1219.3,353.5 L1216.5,355.1 L1213.9,356.6 L1211.5,358.2 L1209.3,359.8 L1207.1,361.5 L1205.0,363.3 L1202.9,365.1 L1200.9,367.0 L1198.9,368.9 L1197.0,370.9 L1195.2,372.9 L1193.4,374.9 L1191.7,377.0 L1190.1,379.1 L1188.6,381.2 L1187.1,383.4 L1185.7,385.6 L1184.4,388.0 L1183.2,390.4 L1182.0,392.8 L1180.8,395.2 L1179.8,397.6 L1178.8,400.1 L1177.9,402.4 L1177.1,404.8 L1176.4,407.0 L1175.8,409.2 L1175.3,411.3 L1174.8,413.3 L1174.5,415.2 L1174.2,417.1 L1174.0,419.0 L1173.9,420.8 L1173.9,422.6 L1173.9,424.5 L1174.0,426.3 L1174.2,428.2 L1174.4,430.1 L1174.6,432.1 L1174.9,434.2 L1175.2,436.3 L1175.6,438.5 L1176.1,440.8 L1176.6,443.1 L1177.1,445.3 L1177.8,447.6 L1178.5,449.8 L1179.3,451.9 L1180.2,453.9 L1181.1,455.8 L1182.2,457.6 L1183.4,459.3 L1184.7,460.9 L1186.1,462.4 L1187.7,463.9 L1189.3,465.2 L1190.9,466.6 L1192.7,467.8 L1194.4,469.0 L1196.2,470.1 L1197.9,471.1 L1199.6,472.0 L1201.3,472.9 L1203.0,473.7 L1204.6,474.4 L1206.3,475.0 L1208.0,475.5 L1209.7,476.0 L1211.4,476.4 L1213.1,476.7 L1214.9,476.9 L1216.6,477.2 L1218.3,477.3 L1220.0,477.4 L1221.7,477.5 L1223.4,477.5 L1225.2,477.5 L1227.0,477.5 L1228.9,477.3 L1230.7,477.2 L1232.5,476.9 L1234.3,476.6 L1236.1,476.3 L1237.7,475.9 L1239.3,475.4 L1240.8,474.8 L1242.1,474.2 L1243.3,473.5 L1244.4,472.7 L1245.5,471.8 L1246.4,470.9 L1247.3,469.9 L1248.1,468.8 L1248.8,467.7 L1249.6,466.5 L1250.3,465.3 L1250.9,464.0 L1251.6,462.7 L1252.3,461.4 L1253.0,460.0 L1253.6,458.5 L1254.1,456.9 L1254.7,455.2 L1255.2,453.4 L1255.7,451.7 L1256.1,449.9 L1256.6,448.2 L1257.1,446.6 L1257.6,445.0 L1258.1,443.6 L1258.7,442.3 L1259.3,441.1 L1259.9,440.0 L1260.5,438.9 L1261.1,438.0 L1261.7,437.0 L1262.3,436.2 L1263.0,435.4 L1263.6,434.6 L1264.3,433.9 L1264.9,433.3 L1265.6,432.7 L1266.3,432.1 L1267.0,431.6 L1267.8,431.2 L1268.6,430.9 L1269.5,430.6 L1270.4,430.4 L1271.2,430.2 L1272.1,430.1 L1272.8,430.0 L1273.6,429.9 L1274.2,429.8 L1274.8,429.7 L1275.2,429.6 L1324.5,429.0"/>
<path d="M623.8,253.3 L651.4,253.3 L696.7,276.5 L734.0,295.9 L693.7,304.8 L636.0,288.5 L618.0,283.3 L597.8,274.7 Z"/>
<path d="M696.7,276.5 L726.3,253.3 L735.2,260.9 L771.5,282.9 L793.5,295.0 L759.7,306.0 L734.0,295.9 Z"/>
<path d="M745.7,253.3 L761.4,253.3 L834.6,301.6 L817.4,307.2 L793.5,295.0 L771.5,282.9 L735.2,260.9 Z"/>
<path d="M550.2,253.3 L597.8,274.7"/>
<path d="M726.3,253.3 L696.7,276.5"/>
<path d="M761.4,253.3 L834.6,301.6"/>
</g>
<g fill="none" stroke="#231f20" stroke-width="1.3" stroke-linecap="round">
<path d="M406.0,253.5 L452.0,280.8"/>
<path d="M438.8,253.5 L503.0,290.5"/>
<path d="M478.8,253.5 L558.0,297.0"/>
<path d="M511.0,253.5 L611.0,302.5"/>
</g>
<g fill="none" stroke="#222" stroke-width="1.3" stroke-dasharray="1.5 1.7">
<path d="M550.6,253.0 L535.7,246.0 L577.5,216.4 L650.0,253.0"/>
<path d="M624.6,253.0 L678.3,225.1 L721.8,253.0"/>
<path d="M703.9,240.6 L727.0,230.3 L760.7,253.0"/>
<path d="M770.4,255.0 L839.4,220.5 L901.4,252.2"/>
<path d="M842.4,252.5 L870.8,237.2"/>
</g>
<g fill="none" stroke="#000" stroke-width="2.6" stroke-linecap="butt">
<path d="M104.6,252.3 V657.6 M1323.3,252.3 V657.6 M103.3,656.3 H1324.6"/>
</g>
<g fill="none" stroke="#000" stroke-width="2.4" stroke-linecap="round">
<path d="M91.2,252.6 H104.6 M1323.3,252.6 H1336.5"/>
<path d="M91.2,420.9 H104.6 M1323.3,420.9 H1336.5"/>
<path d="M91.2,589.0 H104.6 M1323.3,589.0 H1336.5"/>
<path d="M104.9,656.3 V670"/>
<path d="M271.6,656.3 V670"/>
<path d="M438.2,656.3 V670"/>
<path d="M604.9,656.3 V670"/>
<path d="M771.5,656.3 V670"/>
<path d="M938.1,656.3 V670"/>
<path d="M1104.8,656.3 V670"/>
<path d="M1271.5,656.3 V670"/>
</g>
<path d="M104.5,253.4 H1324.5" stroke="#231f20" stroke-width="1.6"/>
<path d="M908,252.8 C918,251 925,247.5 931.8,243.2 L934.8,245.6 L943.2,241 L947.6,244.6 L951.4,242.1 C960,247 972,251 984.5,252.8 Z" fill="#999"/>
<g fill="#808080">
<path d="M909,200.4 C913,198.5 914.5,196 915,193 C915.5,188 920,185.5 925,186.5 C926.5,181.5 932,178.6 937.5,179.4 C942,179.4 944.5,181.5 946,183.5 C949,181.2 954,181.8 956,185.5 C957.5,187.2 957.8,188.6 958,189.6 C961.5,189.2 964.2,191.2 964.6,194.6 C965,197.5 966.5,199.4 968,200.4 Z"/>
<path d="M925.5,201.5 C922,205 921.5,209.5 924,213 C928,219 938,218 944,221 C948.5,223.5 946.5,227.5 944,230.5 C942.5,232 942.8,233.5 943.8,234.5 C943.5,232.5 944.5,231 946.5,229 C950.5,225 951,220 947.5,217.5 C943,214.5 938.5,213 938,209.5 C937.8,206.5 941,203.5 944.5,201.5 Z"/>
</g>
<g stroke="#fff" stroke-width="0.7"><path d="M923,204.3 H931 M922,206.6 H930 M921.8,208.9 H929.5 M939,202.6 H946"/></g>
<g fill="rgb(220,32,40)" stroke="rgb(160,64,135)" stroke-width="1.3">
<ellipse cx="935.3" cy="260.9" rx="2.3" ry="2.3"/>
<ellipse cx="939.0" cy="272.4" rx="4.6" ry="4.1"/>
<ellipse cx="953.4" cy="270.6" rx="2.2" ry="2.2"/>
<ellipse cx="950.8" cy="281.2" rx="2.6" ry="3.0"/>
<ellipse cx="927.5" cy="285.9" rx="5.3" ry="4.3"/>
<ellipse cx="939.9" cy="295.6" rx="3.0" ry="2.2"/>
<ellipse cx="951.1" cy="296.3" rx="2.9" ry="2.9"/>
</g>
<g fill="none" stroke="rgb(214,36,36)" stroke-width="2" stroke-linecap="round">
<path d="M720.1,494.8 L724.6,493.2 L730.8,491.0 L738.1,488.4 L746.0,485.6 L753.8,482.5 L761.0,479.5 L767.7,476.4 L774.3,473.2 L780.9,469.9 L787.4,466.4 L793.8,462.7 L800.0,459.0 L806.1,455.1 L812.1,450.9 L818.1,446.7 L823.9,442.4 L829.5,438.1 L835.0,434.0 L840.4,430.0 L845.6,426.1 L850.8,422.3 L855.7,418.4 L860.5,414.5 L865.0,410.5 L869.4,406.2 L873.7,401.6 L877.8,397.0 L881.6,392.6 L885.0,388.5 L888.0,385.0 L890.5,382.1 L892.7,379.6 L894.4,377.4 L895.9,375.6 L897.1,374.1 L898.0,373.0"/>
<path d="M846.9,555.2 L849.6,550.3 L853.5,543.6 L858.0,535.7 L862.8,527.0 L867.6,518.3 L872.0,510.0 L876.0,502.1 L880.0,494.0 L884.0,485.9 L887.9,477.6 L891.7,469.3 L895.5,461.0 L899.3,452.5 L903.1,443.7 L906.9,434.8 L910.5,426.1 L913.9,417.8 L917.0,410.0 L919.7,402.7 L922.2,395.8 L924.4,389.2 L926.5,383.0 L928.3,377.3 L930.0,372.0 L931.5,367.2 L932.9,362.7 L934.1,358.6 L935.1,355.1 L935.9,352.2 L936.5,350.0"/>
<path d="M1012.7,534.2 L1010.6,531.0 L1007.7,526.7 L1004.3,521.5 L1000.7,515.9 L997.1,510.3 L994.0,505.0 L991.2,499.9 L988.5,494.6 L985.8,489.2 L983.3,484.1 L981.1,479.3 L979.0,475.0 L977.3,471.7 L975.9,469.1 L974.6,467.0 L973.5,464.7 L972.3,461.9 L971.0,458.0 L969.5,452.8 L967.9,446.7 L966.2,439.9 L964.6,433.0 L963.2,426.2 L962.0,420.0 L961.0,413.9 L960.2,407.7 L959.6,401.6 L959.1,396.1 L958.6,391.4 L958.3,388.0"/>
</g>
<g fill="rgb(214,36,36)">
<path d="M906.4,363.4 L900.7,378.8 L891.2,369.6 Z"/>
<path d="M940.0,335.4 L943.3,351.5 L930.0,348.5 Z"/>
<path d="M956.8,374.6 L964.9,389.0 L951.3,390.1 Z"/>
</g>
<g fill="#bfbfbf" stroke="#333" stroke-width="1.4" stroke-linejoin="miter">
<path d="M303,215.5 H320.5 V198.8 L360.5,221.5 L320.5,244.3 V227.5 H303 Z"/>
<path d="M1170.2,215.4 H1152.9 V198.5 L1113.4,221.6 L1152.9,244.7 V228.1 H1170.2 Z"/>
</g>
<g font-family="&quot;Liberation Sans&quot;, sans-serif" fill="#231f20">
<text x="118.30" y="229.20" font-size="27.50" textLength="164.91" lengthAdjust="spacingAndGlyphs">Arabian Plate</text>
<text x="1176.22" y="232.20" font-size="27.50" textLength="144.19" lengthAdjust="spacingAndGlyphs">Central Iran</text>
<text x="117.23" y="284.80" font-size="27.50" textLength="129.11" lengthAdjust="spacingAndGlyphs">felsic crust</text>
<text x="115.84" y="326.70" font-size="27.50" textLength="133.44" lengthAdjust="spacingAndGlyphs">mafic crust</text>
<text x="115.00" y="380.70" font-size="27.50" textLength="140.63" lengthAdjust="spacingAndGlyphs">lithospheric</text>
<text x="115.85" y="411.70" font-size="27.50" textLength="82.52" lengthAdjust="spacingAndGlyphs">mantle</text>
<text x="1184.43" y="289.30" font-size="27.50" textLength="129.71" lengthAdjust="spacingAndGlyphs">felsic crust</text>
<text x="1183.03" y="329.30" font-size="27.50" textLength="134.46" lengthAdjust="spacingAndGlyphs">mafic crust</text>
<text x="1274.05" y="378.10" font-size="27.50" textLength="44.61" lengthAdjust="spacingAndGlyphs">lith.</text>
<text x="1233.94" y="408.70" font-size="27.50" textLength="83.24" lengthAdjust="spacingAndGlyphs">mantle</text>
<text x="811.58" y="441.00" font-size="27.50" textLength="181.12" lengthAdjust="spacingAndGlyphs">asthenosphere</text>
<text x="119.30" y="639.60" font-size="33.40" textLength="138.85" lengthAdjust="spacingAndGlyphs">Section 2</text>
</g>
<g font-family="&quot;Liberation Sans&quot;, sans-serif" fill="#000">
<text x="666.3" y="289.9" font-size="29.5" text-anchor="middle">1</text>
<text x="611.61" y="336.80" font-size="29.50" textLength="18.47" lengthAdjust="spacingAndGlyphs">2</text>
<text x="578.86" y="380.60" font-size="29.50" textLength="16.64" lengthAdjust="spacingAndGlyphs">3</text>
</g>
<g font-family="&quot;Liberation Sans&quot;, sans-serif" font-size="25.7" fill="#231f20" text-anchor="middle">
<text x="104.9" y="698">0</text>
<text x="271.6" y="698">100</text>
<text x="438.2" y="698">200</text>
<text x="604.9" y="698">300</text>
<text x="771.5" y="698">400</text>
<text x="938.1" y="698">500</text>
<text x="1104.8" y="698">600</text>
<text x="1271.5" y="698">700</text>
</g>
<g font-family="&quot;Liberation Sans&quot;, sans-serif" fill="#231f20">
<text x="642.70" y="738.50" font-size="25.60" textLength="143.20" lengthAdjust="spacingAndGlyphs">distance, km</text>
<text transform="translate(19.30,510.30) rotate(-90)" x="-1.01" y="0" font-size="25.60" textLength="113.91" lengthAdjust="spacingAndGlyphs">depth, km</text>
</g>
<g font-family="&quot;Liberation Sans&quot;, sans-serif" font-size="25.8" fill="#231f20" text-anchor="end">
<text x="87.3" y="262.2">0</text><text x="87.3" y="430.2">-100</text><text x="87.3" y="598.2">-200</text>
</g>
</svg>
</body></html>
